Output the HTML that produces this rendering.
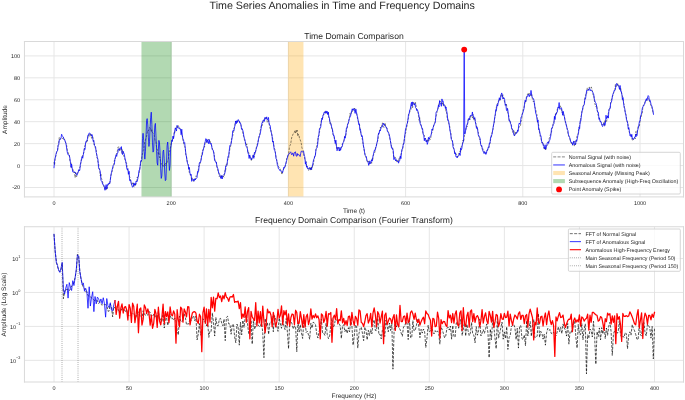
<!DOCTYPE html>
<html><head><meta charset="utf-8"><title>Time Series Anomalies</title>
<style>html,body{margin:0;padding:0;background:#fff;}body{width:685px;height:400px;overflow:hidden;}svg{display:block;}text{text-rendering:geometricPrecision;}</style>
</head><body>
<svg width="685" height="400" viewBox="0 0 685 400">
<defs>
<style type="text/css">*{stroke-linejoin: round; stroke-linecap: butt}</style>
</defs>
<g id="figure_1">
<g id="patch_1">
<path d="M 0 400 
L 685 400 
L 685 0 
L 0 0 
z
" style="fill: #ffffff"/>
</g>
<g id="axes_1">
<g id="patch_2">
<path d="M 24.45 196.9 
L 683.5 196.9 
L 683.5 41.5 
L 24.45 41.5 
z
" style="fill: #ffffff"/>
</g>
<g id="matplotlib.axis_1">
<g id="xtick_1">
<g id="line2d_1">
<path d="M 54 196.9 
L 54 41.5 
" clip-path="url(#pe3ca237a5c)" style="fill: none; stroke: #e6e6e6; stroke-linecap: square"/>
</g>
<g id="line2d_2"/>
<g id="text_1">
<text style="font-size: 5.5px; font-family: 'Liberation Sans', 'DejaVu Sans', sans-serif; text-anchor: middle; fill: #262626" x="54" y="204.79" transform="rotate(-0 54 204.79)">0</text>
</g>
</g>
<g id="xtick_2">
<g id="line2d_3">
<path d="M 171.2 196.9 
L 171.2 41.5 
" clip-path="url(#pe3ca237a5c)" style="fill: none; stroke: #e6e6e6; stroke-linecap: square"/>
</g>
<g id="line2d_4"/>
<g id="text_2">
<text style="font-size: 5.5px; font-family: 'Liberation Sans', 'DejaVu Sans', sans-serif; text-anchor: middle; fill: #262626" x="171.2" y="204.79" transform="rotate(-0 171.2 204.79)">200</text>
</g>
</g>
<g id="xtick_3">
<g id="line2d_5">
<path d="M 288.4 196.9 
L 288.4 41.5 
" clip-path="url(#pe3ca237a5c)" style="fill: none; stroke: #e6e6e6; stroke-linecap: square"/>
</g>
<g id="line2d_6"/>
<g id="text_3">
<text style="font-size: 5.5px; font-family: 'Liberation Sans', 'DejaVu Sans', sans-serif; text-anchor: middle; fill: #262626" x="288.4" y="204.79" transform="rotate(-0 288.4 204.79)">400</text>
</g>
</g>
<g id="xtick_4">
<g id="line2d_7">
<path d="M 405.6 196.9 
L 405.6 41.5 
" clip-path="url(#pe3ca237a5c)" style="fill: none; stroke: #e6e6e6; stroke-linecap: square"/>
</g>
<g id="line2d_8"/>
<g id="text_4">
<text style="font-size: 5.5px; font-family: 'Liberation Sans', 'DejaVu Sans', sans-serif; text-anchor: middle; fill: #262626" x="405.6" y="204.79" transform="rotate(-0 405.6 204.79)">600</text>
</g>
</g>
<g id="xtick_5">
<g id="line2d_9">
<path d="M 522.8 196.9 
L 522.8 41.5 
" clip-path="url(#pe3ca237a5c)" style="fill: none; stroke: #e6e6e6; stroke-linecap: square"/>
</g>
<g id="line2d_10"/>
<g id="text_5">
<text style="font-size: 5.5px; font-family: 'Liberation Sans', 'DejaVu Sans', sans-serif; text-anchor: middle; fill: #262626" x="522.8" y="204.79" transform="rotate(-0 522.8 204.79)">800</text>
</g>
</g>
<g id="xtick_6">
<g id="line2d_11">
<path d="M 640 196.9 
L 640 41.5 
" clip-path="url(#pe3ca237a5c)" style="fill: none; stroke: #e6e6e6; stroke-linecap: square"/>
</g>
<g id="line2d_12"/>
<g id="text_6">
<text style="font-size: 5.5px; font-family: 'Liberation Sans', 'DejaVu Sans', sans-serif; text-anchor: middle; fill: #262626" x="640" y="204.79" transform="rotate(-0 640 204.79)">1000</text>
</g>
</g>
<g id="text_7">
<text style="font-size: 6.5px; font-family: 'Liberation Sans', 'DejaVu Sans', sans-serif; text-anchor: middle; fill: #262626" x="353.98" y="213.14" transform="rotate(-0 353.98 213.14)">Time (t)</text>
</g>
</g>
<g id="matplotlib.axis_2">
<g id="ytick_1">
<g id="line2d_13">
<path d="M 24.45 187.5 
L 683.5 187.5 
" clip-path="url(#pe3ca237a5c)" style="fill: none; stroke: #e6e6e6; stroke-linecap: square"/>
</g>
<g id="line2d_14"/>
<g id="text_8">
<text style="font-size: 5.5px; font-family: 'Liberation Sans', 'DejaVu Sans', sans-serif; text-anchor: end; fill: #262626" x="20.15" y="189.49" transform="rotate(-0 20.15 189.49)">-20</text>
</g>
</g>
<g id="ytick_2">
<g id="line2d_15">
<path d="M 24.45 165.57 
L 683.5 165.57 
" clip-path="url(#pe3ca237a5c)" style="fill: none; stroke: #e6e6e6; stroke-linecap: square"/>
</g>
<g id="line2d_16"/>
<g id="text_9">
<text style="font-size: 5.5px; font-family: 'Liberation Sans', 'DejaVu Sans', sans-serif; text-anchor: end; fill: #262626" x="20.15" y="167.56" transform="rotate(-0 20.15 167.56)">0</text>
</g>
</g>
<g id="ytick_3">
<g id="line2d_17">
<path d="M 24.45 143.63 
L 683.5 143.63 
" clip-path="url(#pe3ca237a5c)" style="fill: none; stroke: #e6e6e6; stroke-linecap: square"/>
</g>
<g id="line2d_18"/>
<g id="text_10">
<text style="font-size: 5.5px; font-family: 'Liberation Sans', 'DejaVu Sans', sans-serif; text-anchor: end; fill: #262626" x="20.15" y="145.63" transform="rotate(-0 20.15 145.63)">20</text>
</g>
</g>
<g id="ytick_4">
<g id="line2d_19">
<path d="M 24.45 121.7 
L 683.5 121.7 
" clip-path="url(#pe3ca237a5c)" style="fill: none; stroke: #e6e6e6; stroke-linecap: square"/>
</g>
<g id="line2d_20"/>
<g id="text_11">
<text style="font-size: 5.5px; font-family: 'Liberation Sans', 'DejaVu Sans', sans-serif; text-anchor: end; fill: #262626" x="20.15" y="123.69" transform="rotate(-0 20.15 123.69)">40</text>
</g>
</g>
<g id="ytick_5">
<g id="line2d_21">
<path d="M 24.45 99.77 
L 683.5 99.77 
" clip-path="url(#pe3ca237a5c)" style="fill: none; stroke: #e6e6e6; stroke-linecap: square"/>
</g>
<g id="line2d_22"/>
<g id="text_12">
<text style="font-size: 5.5px; font-family: 'Liberation Sans', 'DejaVu Sans', sans-serif; text-anchor: end; fill: #262626" x="20.15" y="101.76" transform="rotate(-0 20.15 101.76)">60</text>
</g>
</g>
<g id="ytick_6">
<g id="line2d_23">
<path d="M 24.45 77.83 
L 683.5 77.83 
" clip-path="url(#pe3ca237a5c)" style="fill: none; stroke: #e6e6e6; stroke-linecap: square"/>
</g>
<g id="line2d_24"/>
<g id="text_13">
<text style="font-size: 5.5px; font-family: 'Liberation Sans', 'DejaVu Sans', sans-serif; text-anchor: end; fill: #262626" x="20.15" y="79.83" transform="rotate(-0 20.15 79.83)">80</text>
</g>
</g>
<g id="ytick_7">
<g id="line2d_25">
<path d="M 24.45 55.9 
L 683.5 55.9 
" clip-path="url(#pe3ca237a5c)" style="fill: none; stroke: #e6e6e6; stroke-linecap: square"/>
</g>
<g id="line2d_26"/>
<g id="text_14">
<text style="font-size: 5.5px; font-family: 'Liberation Sans', 'DejaVu Sans', sans-serif; text-anchor: end; fill: #262626" x="20.15" y="57.89" transform="rotate(-0 20.15 57.89)">100</text>
</g>
</g>
</g>
<g id="patch_3">
<path d="M 141.9 196.9 
L 171.2 196.9 
L 171.2 41.5 
L 141.9 41.5 
z
" clip-path="url(#pe3ca237a5c)" style="fill: #008000; opacity: 0.3; stroke: #008000; stroke-width: 0.8; stroke-linejoin: miter"/>
</g>
<g id="patch_4">
<path d="M 288.4 196.9 
L 303.05 196.9 
L 303.05 41.5 
L 288.4 41.5 
z
" clip-path="url(#pe3ca237a5c)" style="fill: #ffa500; opacity: 0.3; stroke: #ffa500; stroke-width: 0.8; stroke-linejoin: miter"/>
</g>
<g id="line2d_27">
<path d="M 54 161.97 
L 54.59 165.12 
L 55.17 158.33 
L 55.76 156.49 
L 56.34 154.04 
L 56.93 150.7 
L 57.52 150.26 
L 58.1 145.43 
L 58.69 143.3 
L 59.27 137.45 
L 59.86 139.72 
L 60.45 138.67 
L 61.03 138.07 
L 61.62 137.87 
L 62.2 138.3 
L 62.79 138.49 
L 63.38 137.42 
L 63.96 139.4 
L 64.55 139.2 
L 65.13 141.81 
L 65.72 142.74 
L 66.31 143.36 
L 66.89 147.06 
L 67.48 150.77 
L 68.06 152.3 
L 68.65 154.14 
L 69.24 154.44 
L 69.82 160.21 
L 70.41 162.33 
L 70.99 162.59 
L 71.58 167.93 
L 72.17 168.24 
L 72.75 168.94 
L 73.34 171.08 
L 73.92 172.98 
L 74.51 172.11 
L 75.1 177.7 
L 75.68 172.86 
L 76.27 176.37 
L 76.85 176.45 
L 77.44 172.91 
L 78.03 171.25 
L 78.61 171.33 
L 79.2 170.56 
L 79.78 167.48 
L 80.37 166.35 
L 80.96 161.37 
L 81.54 159.96 
L 82.13 158.07 
L 82.71 154.36 
L 83.3 153.85 
L 83.89 152.2 
L 84.47 146.99 
L 85.06 145.27 
L 85.64 143.3 
L 86.23 142.49 
L 86.82 140.13 
L 87.4 141.24 
L 87.99 136.43 
L 88.57 134.75 
L 89.16 136.31 
L 89.75 134.26 
L 90.33 136.23 
L 90.92 134.07 
L 91.5 138.2 
L 92.09 138.53 
L 92.68 136.75 
L 93.26 138.54 
L 93.85 144.5 
L 94.43 144.23 
L 95.02 146.58 
L 95.61 149.43 
L 96.19 150.17 
L 96.78 157 
L 97.36 158.41 
L 97.95 162.15 
L 98.54 163.1 
L 99.12 168.11 
L 99.71 170.87 
L 100.29 175.78 
L 100.88 173.5 
L 101.47 178.2 
L 102.05 180.2 
L 102.64 182.02 
L 103.22 184.89 
L 103.81 186.63 
L 104.4 188.26 
L 104.98 188.49 
L 105.57 186.63 
L 106.15 190.15 
L 106.74 189.25 
L 107.33 187.91 
L 107.91 185.5 
L 108.5 184.19 
L 109.08 184.51 
L 109.67 183.61 
L 110.26 179.63 
L 110.84 175.97 
L 111.43 173.3 
L 112.01 172.07 
L 112.6 169.16 
L 113.19 166.88 
L 113.77 165.45 
L 114.36 160.34 
L 114.94 160.55 
L 115.53 157.25 
L 116.12 155.51 
L 116.7 153.06 
L 117.29 151.64 
L 117.87 147.24 
L 118.46 147.09 
L 119.05 146.7 
L 119.63 151.37 
L 120.22 149.22 
L 120.8 149.66 
L 121.39 148.24 
L 121.98 153.49 
L 122.56 149.76 
L 123.15 152.05 
L 123.73 155.85 
L 124.32 157.19 
L 124.91 159.65 
L 125.49 160.77 
L 126.08 163.08 
L 126.66 163.25 
L 127.25 168.87 
L 127.84 169.81 
L 128.42 171.82 
L 129.01 172.63 
L 129.59 176.69 
L 130.18 177.82 
L 130.77 182.98 
L 131.35 183.44 
L 131.94 184.97 
L 132.52 182.8 
L 133.11 183.85 
L 133.7 186.35 
L 134.28 187.1 
L 134.87 183.74 
L 135.45 185.27 
L 136.04 183.96 
L 136.63 181.65 
L 137.21 177.09 
L 137.8 178.21 
L 138.38 176.06 
L 138.97 174.07 
L 139.56 171.11 
L 140.14 166.31 
L 140.73 163.17 
L 141.31 160.8 
L 141.9 156.82 
L 142.49 153.88 
L 143.07 150.68 
L 143.66 149.68 
L 144.24 145.23 
L 144.83 141.69 
L 145.42 140.3 
L 146 137.78 
L 146.59 136.07 
L 147.17 133 
L 147.76 130.29 
L 148.35 130.93 
L 148.93 129.85 
L 149.52 127.56 
L 150.1 128.39 
L 150.69 127.56 
L 151.28 131.98 
L 151.86 129.87 
L 152.45 132.39 
L 153.03 133.08 
L 153.62 134.23 
L 154.21 135.1 
L 154.79 138.81 
L 155.38 141.61 
L 155.96 141.67 
L 156.55 146.86 
L 157.14 149.13 
L 157.72 150.43 
L 158.31 154.15 
L 158.89 152.53 
L 159.48 157.46 
L 160.07 157.39 
L 160.65 161.99 
L 161.24 164 
L 161.82 164.47 
L 162.41 163.92 
L 163 166.27 
L 163.58 165.92 
L 164.17 165.79 
L 164.75 164.4 
L 165.34 165.73 
L 165.93 162.98 
L 166.51 164.06 
L 167.1 162.35 
L 167.68 159.65 
L 168.27 158.85 
L 168.86 154.92 
L 169.44 151.52 
L 170.03 150.19 
L 170.61 146.44 
L 171.2 143.77 
L 171.79 142.03 
L 172.37 139.27 
L 172.96 138.48 
L 173.54 137.17 
L 174.13 132.42 
L 174.72 133.29 
L 175.3 128.86 
L 175.89 128.83 
L 176.47 126.37 
L 177.06 126.55 
L 177.65 128.01 
L 178.23 125.59 
L 178.82 126.73 
L 179.4 127.49 
L 179.99 128.68 
L 180.58 131.02 
L 181.16 131.49 
L 181.75 134.29 
L 182.33 136.04 
L 182.92 140.47 
L 183.51 142 
L 184.09 145.26 
L 184.68 146.23 
L 185.26 148.31 
L 185.85 155.24 
L 186.44 156.08 
L 187.02 159.64 
L 187.61 163.95 
L 188.19 165.03 
L 188.78 168.65 
L 189.37 172.94 
L 189.95 173.44 
L 190.54 175.09 
L 191.12 175.93 
L 191.71 180.39 
L 192.3 177.96 
L 192.88 178.48 
L 193.47 181.16 
L 194.05 181.39 
L 194.64 180.42 
L 195.23 179.48 
L 195.81 175.93 
L 196.4 176.14 
L 196.98 176.25 
L 197.57 173.72 
L 198.16 171.47 
L 198.74 166.12 
L 199.33 165.99 
L 199.91 164.17 
L 200.5 161.08 
L 201.09 159.23 
L 201.67 153.07 
L 202.26 153.59 
L 202.84 150.11 
L 203.43 148.97 
L 204.02 146.63 
L 204.6 146.86 
L 205.19 142.24 
L 205.77 141.71 
L 206.36 141.2 
L 206.95 142.3 
L 207.53 140.59 
L 208.12 139.75 
L 208.7 139.32 
L 209.29 139.97 
L 209.88 140.22 
L 210.46 142.55 
L 211.05 144.42 
L 211.63 145.51 
L 212.22 147.87 
L 212.81 150.12 
L 213.39 151.71 
L 213.98 152.85 
L 214.56 157.21 
L 215.15 161.1 
L 215.74 161.53 
L 216.32 162.52 
L 216.91 166.95 
L 217.49 169.32 
L 218.08 171.37 
L 218.67 171.87 
L 219.25 176.57 
L 219.84 175.52 
L 220.42 174.94 
L 221.01 178.16 
L 221.6 175.58 
L 222.18 176.9 
L 222.77 177.31 
L 223.35 176.15 
L 223.94 177.29 
L 224.53 173.97 
L 225.11 169.54 
L 225.7 170.26 
L 226.28 164.4 
L 226.87 165.33 
L 227.46 160.43 
L 228.04 158.67 
L 228.63 158.39 
L 229.21 152.8 
L 229.8 149.43 
L 230.39 147.4 
L 230.97 144.46 
L 231.56 138.89 
L 232.14 136.9 
L 232.73 135.72 
L 233.32 131.84 
L 233.9 128.41 
L 234.49 127.29 
L 235.07 123.52 
L 235.66 121.04 
L 236.25 121.97 
L 236.83 122.17 
L 237.42 122.53 
L 238 121.13 
L 238.59 120.07 
L 239.18 121.28 
L 239.76 121.81 
L 240.35 123.89 
L 240.93 125.37 
L 241.52 127.37 
L 242.11 129.24 
L 242.69 132.77 
L 243.28 135 
L 243.86 136.85 
L 244.45 139.87 
L 245.04 141.94 
L 245.62 142.67 
L 246.21 145.4 
L 246.79 143.85 
L 247.38 148.72 
L 247.97 152.85 
L 248.55 152.09 
L 249.14 154.83 
L 249.72 156.45 
L 250.31 156.84 
L 250.9 159.27 
L 251.48 160.98 
L 252.07 157.61 
L 252.65 157.67 
L 253.24 154.54 
L 253.83 156.98 
L 254.41 156.53 
L 255 151.53 
L 255.58 152.02 
L 256.17 148.6 
L 256.76 144.81 
L 257.34 144.51 
L 257.93 142.28 
L 258.51 139.67 
L 259.1 135.67 
L 259.69 135.28 
L 260.27 130.32 
L 260.86 128.63 
L 261.44 124.73 
L 262.03 125.82 
L 262.62 124.14 
L 263.2 120.39 
L 263.79 120.67 
L 264.37 118.87 
L 264.96 118.41 
L 265.55 117.08 
L 266.13 118.44 
L 266.72 118.91 
L 267.3 122.22 
L 267.89 121.13 
L 268.48 120.25 
L 269.06 124.05 
L 269.65 126.64 
L 270.23 129.05 
L 270.82 129.05 
L 271.41 132.76 
L 271.99 136.42 
L 272.58 137.99 
L 273.16 142.18 
L 273.75 144.55 
L 274.34 148.32 
L 274.92 149.44 
L 275.51 153.41 
L 276.09 157.22 
L 276.68 160.55 
L 277.27 162.07 
L 277.85 164.61 
L 278.44 166.43 
L 279.02 167.34 
L 279.61 169.31 
L 280.2 168.96 
L 280.78 170.42 
L 281.37 171.56 
L 281.95 174.57 
L 282.54 170.64 
L 283.13 170.02 
L 283.71 169.19 
L 284.3 168.29 
L 284.88 167.86 
L 285.47 165.37 
L 286.06 163.72 
L 286.64 158.37 
L 287.23 158.28 
L 287.81 156.27 
L 288.4 154.81 
L 288.99 151.05 
L 289.57 145.97 
L 290.16 145.28 
L 290.74 143.66 
L 291.33 139.47 
L 291.92 136.56 
L 292.5 135.65 
L 293.09 133.91 
L 293.67 133.49 
L 294.26 132.6 
L 294.85 130.87 
L 295.43 133.06 
L 296.02 130 
L 296.6 132.26 
L 297.19 130.14 
L 297.78 136.3 
L 298.36 134.29 
L 298.95 134.61 
L 299.53 138.83 
L 300.12 139.6 
L 300.71 141.3 
L 301.29 143.52 
L 301.88 147.56 
L 302.46 149.36 
L 303.05 150.36 
L 303.64 152.84 
L 304.22 156.53 
L 304.81 158.92 
L 305.39 160.93 
L 305.98 161.11 
L 306.57 165.59 
L 307.15 168.13 
L 307.74 167.98 
L 308.32 170.36 
L 308.91 170.22 
L 309.5 168.6 
L 310.08 167.61 
L 310.67 170.5 
L 311.25 166.56 
L 311.84 169.4 
L 312.43 164.99 
L 313.01 165.45 
L 313.6 162.96 
L 314.18 158.12 
L 314.77 156.87 
L 315.36 154.88 
L 315.94 150.51 
L 316.53 146.42 
L 317.11 144.76 
L 317.7 140.54 
L 318.29 136.38 
L 318.87 135.8 
L 319.46 132.18 
L 320.04 128.87 
L 320.63 123.66 
L 321.22 120.94 
L 321.8 118.72 
L 322.39 118.42 
L 322.97 116.84 
L 323.56 114.5 
L 324.15 114.43 
L 324.73 111.68 
L 325.32 111.72 
L 325.9 113.24 
L 326.49 112.59 
L 327.08 113.59 
L 327.66 111.98 
L 328.25 112.19 
L 328.83 117.7 
L 329.42 118.52 
L 330.01 123.64 
L 330.59 122.08 
L 331.18 125.45 
L 331.76 129.14 
L 332.35 128.91 
L 332.94 134.72 
L 333.52 135.15 
L 334.11 137.16 
L 334.69 140.8 
L 335.28 140.96 
L 335.87 142.2 
L 336.45 147.2 
L 337.04 148.84 
L 337.62 147.01 
L 338.21 149.34 
L 338.8 150.47 
L 339.38 150.64 
L 339.97 149.87 
L 340.55 149.29 
L 341.14 147.52 
L 341.73 147.1 
L 342.31 144 
L 342.9 143.55 
L 343.48 141.98 
L 344.07 139.57 
L 344.66 136.46 
L 345.24 134.96 
L 345.83 135.4 
L 346.41 130.37 
L 347 128.14 
L 347.59 125.37 
L 348.17 123.01 
L 348.76 120.29 
L 349.34 118.69 
L 349.93 113.5 
L 350.52 115.2 
L 351.1 113.76 
L 351.69 111.55 
L 352.27 112.13 
L 352.86 110.09 
L 353.45 109.48 
L 354.03 110 
L 354.62 108.05 
L 355.2 110.61 
L 355.79 112.25 
L 356.38 112.89 
L 356.96 114.71 
L 357.55 118.94 
L 358.13 120.54 
L 358.72 122.41 
L 359.31 123.16 
L 359.89 127.6 
L 360.48 130.58 
L 361.06 135.14 
L 361.65 135.7 
L 362.24 138.93 
L 362.82 142.59 
L 363.41 145.29 
L 363.99 149.04 
L 364.58 152.16 
L 365.17 154.77 
L 365.75 157.02 
L 366.34 158.09 
L 366.92 160.29 
L 367.51 162.64 
L 368.1 161.22 
L 368.68 161.53 
L 369.27 164.12 
L 369.85 162.71 
L 370.44 162.51 
L 371.03 162.11 
L 371.61 163.37 
L 372.2 158.08 
L 372.78 159.32 
L 373.37 155.12 
L 373.96 153.8 
L 374.54 153.34 
L 375.13 150.31 
L 375.71 146.5 
L 376.3 145.75 
L 376.89 142.35 
L 377.47 141.21 
L 378.06 139.55 
L 378.64 133.06 
L 379.23 131.61 
L 379.82 130.46 
L 380.4 127.24 
L 380.99 128.38 
L 381.57 126.55 
L 382.16 122.95 
L 382.75 123.18 
L 383.33 126.39 
L 383.92 127.44 
L 384.5 125.54 
L 385.09 122.84 
L 385.68 126.55 
L 386.26 127.31 
L 386.85 128.15 
L 387.43 130.55 
L 388.02 131.39 
L 388.61 132.43 
L 389.19 136.01 
L 389.78 138.55 
L 390.36 140.84 
L 390.95 143.41 
L 391.54 146.47 
L 392.12 146.65 
L 392.71 147.8 
L 393.29 153.74 
L 393.88 157.68 
L 394.47 157 
L 395.05 156.98 
L 395.64 157.93 
L 396.22 159.05 
L 396.81 161.86 
L 397.4 161.89 
L 397.98 160.27 
L 398.57 161.87 
L 399.15 157.56 
L 399.74 158.42 
L 400.33 156.15 
L 400.91 154.47 
L 401.5 152.59 
L 402.08 149.5 
L 402.67 149.38 
L 403.26 144.64 
L 403.84 142.25 
L 404.43 138.91 
L 405.01 134.33 
L 405.6 133.23 
L 406.19 130.13 
L 406.77 126.89 
L 407.36 123.48 
L 407.94 119.48 
L 408.53 118.01 
L 409.12 112.86 
L 409.7 112.35 
L 410.29 110.16 
L 410.87 110.04 
L 411.46 106.48 
L 412.05 104.68 
L 412.63 107.65 
L 413.22 102.14 
L 413.8 101.88 
L 414.39 104.53 
L 414.98 104.73 
L 415.56 102.49 
L 416.15 106.04 
L 416.73 109.89 
L 417.32 110.6 
L 417.91 112.36 
L 418.49 114.93 
L 419.08 120.38 
L 419.66 117.61 
L 420.25 122.61 
L 420.84 124.62 
L 421.42 127.22 
L 422.01 128.09 
L 422.59 131.59 
L 423.18 133.87 
L 423.77 134.7 
L 424.35 135.21 
L 424.94 139.2 
L 425.52 138.48 
L 426.11 140.16 
L 426.7 141.91 
L 427.28 139.81 
L 427.87 142.1 
L 428.45 140.45 
L 429.04 140.86 
L 429.63 138.37 
L 430.21 139.56 
L 430.8 137.66 
L 431.38 133.64 
L 431.97 132.56 
L 432.56 131.14 
L 433.14 128.07 
L 433.73 124.98 
L 434.31 123.63 
L 434.9 122.42 
L 435.49 118.55 
L 436.07 116.47 
L 436.66 114.19 
L 437.24 110.33 
L 437.83 108.87 
L 438.42 106.91 
L 439 103.02 
L 439.59 102.6 
L 440.17 101.16 
L 440.76 101.96 
L 441.35 102.18 
L 441.93 103.92 
L 442.52 102.06 
L 443.1 106.04 
L 443.69 104.35 
L 444.28 104.49 
L 444.86 104.69 
L 445.45 106.93 
L 446.03 112.66 
L 446.62 112.44 
L 447.21 118.21 
L 447.79 118.28 
L 448.38 122.08 
L 448.96 124.23 
L 449.55 125.18 
L 450.14 130.42 
L 450.72 131.81 
L 451.31 137.91 
L 451.89 141.13 
L 452.48 141.47 
L 453.07 143.85 
L 453.65 148.31 
L 454.24 150.53 
L 454.82 153.78 
L 455.41 153.91 
L 456 153.46 
L 456.58 155.3 
L 457.17 155.62 
L 457.75 156.93 
L 458.34 154.72 
L 458.93 153.09 
L 459.51 153.3 
L 460.1 150.93 
L 460.68 152.49 
L 461.27 146.42 
L 461.86 146.1 
L 462.44 144.88 
L 463.03 140.03 
L 463.61 141.88 
L 464.2 137.36 
L 464.79 133.92 
L 465.37 131.14 
L 465.96 127.61 
L 466.54 125.89 
L 467.13 126.79 
L 467.72 123.51 
L 468.3 119.79 
L 468.89 119.04 
L 469.47 117.9 
L 470.06 119.53 
L 470.65 115.83 
L 471.23 115.35 
L 471.82 115.79 
L 472.4 117.74 
L 472.99 114.35 
L 473.58 120.2 
L 474.16 118.93 
L 474.75 117.6 
L 475.33 122.15 
L 475.92 123.46 
L 476.51 126.98 
L 477.09 126.5 
L 477.68 131.9 
L 478.26 132.12 
L 478.85 135.75 
L 479.44 139.17 
L 480.02 138.85 
L 480.61 143.67 
L 481.19 145.64 
L 481.78 147.04 
L 482.37 149.21 
L 482.95 149.4 
L 483.54 149.14 
L 484.12 152.35 
L 484.71 153.05 
L 485.3 154.01 
L 485.88 153.19 
L 486.47 151.61 
L 487.05 151.28 
L 487.64 149.57 
L 488.23 148.68 
L 488.81 148.55 
L 489.4 144.1 
L 489.98 143.67 
L 490.57 139.74 
L 491.16 135.6 
L 491.74 134.96 
L 492.33 130.87 
L 492.91 129.66 
L 493.5 125.52 
L 494.09 123.13 
L 494.67 118.27 
L 495.26 115.65 
L 495.84 112.05 
L 496.43 106.6 
L 497.02 106.2 
L 497.6 102.64 
L 498.19 101.89 
L 498.77 100.44 
L 499.36 99.4 
L 499.95 100.48 
L 500.53 96.59 
L 501.12 94.09 
L 501.7 95.08 
L 502.29 97.18 
L 502.88 94.73 
L 503.46 97.83 
L 504.05 99.63 
L 504.63 102.44 
L 505.22 103.82 
L 505.81 105.34 
L 506.39 103.72 
L 506.98 108.46 
L 507.56 112.48 
L 508.15 114.03 
L 508.74 115.68 
L 509.32 121.53 
L 509.91 121.11 
L 510.49 122.28 
L 511.08 124.5 
L 511.67 126.65 
L 512.25 130.37 
L 512.84 132.4 
L 513.42 129.88 
L 514.01 131.12 
L 514.6 135.64 
L 515.18 132.03 
L 515.77 133.92 
L 516.35 132.03 
L 516.94 132.37 
L 517.53 131.57 
L 518.11 129.52 
L 518.7 128.09 
L 519.28 126.49 
L 519.87 126.74 
L 520.46 126.07 
L 521.04 121.41 
L 521.63 119.47 
L 522.21 114.24 
L 522.8 111.44 
L 523.39 108.68 
L 523.97 107.81 
L 524.56 104.78 
L 525.14 101.07 
L 525.73 101.79 
L 526.32 97.38 
L 526.9 94.94 
L 527.49 94.83 
L 528.07 93.36 
L 528.66 94.82 
L 529.25 93 
L 529.83 94.17 
L 530.42 94.87 
L 531 95.96 
L 531.59 94.07 
L 532.18 98.59 
L 532.76 98.87 
L 533.35 102.01 
L 533.93 101.43 
L 534.52 103.13 
L 535.11 108.24 
L 535.69 108.92 
L 536.28 112.88 
L 536.86 114.4 
L 537.45 120.23 
L 538.04 124.83 
L 538.62 124.67 
L 539.21 130.59 
L 539.79 133.97 
L 540.38 136.89 
L 540.97 138.33 
L 541.55 140.95 
L 542.14 142.88 
L 542.72 141.91 
L 543.31 144.19 
L 543.9 148.22 
L 544.48 149.22 
L 545.07 147.66 
L 545.65 150.34 
L 546.24 147.24 
L 546.83 145.69 
L 547.41 145.31 
L 548 144.28 
L 548.58 141.96 
L 549.17 138.6 
L 549.76 137.1 
L 550.34 135.05 
L 550.93 132.33 
L 551.51 132.21 
L 552.1 127.59 
L 552.69 127.26 
L 553.27 122.5 
L 553.86 122.57 
L 554.44 119.14 
L 555.03 116.59 
L 555.62 113.53 
L 556.2 114.51 
L 556.79 111.25 
L 557.37 109.07 
L 557.96 108.39 
L 558.55 108.48 
L 559.13 107.31 
L 559.72 108.14 
L 560.3 105.81 
L 560.89 107.47 
L 561.48 110.11 
L 562.06 112.99 
L 562.65 111.93 
L 563.23 112.41 
L 563.82 115.33 
L 564.41 116.47 
L 564.99 119.83 
L 565.58 123.59 
L 566.16 124.23 
L 566.75 126.2 
L 567.34 129.41 
L 567.92 133.47 
L 568.51 134.33 
L 569.09 136.97 
L 569.68 137.79 
L 570.27 140.62 
L 570.85 141.88 
L 571.44 143.48 
L 572.02 142.44 
L 572.61 144.46 
L 573.2 145.36 
L 573.78 145.77 
L 574.37 146.05 
L 574.95 141.22 
L 575.54 144.46 
L 576.13 141.66 
L 576.71 137.46 
L 577.3 134.8 
L 577.88 134.51 
L 578.47 131.05 
L 579.06 128.5 
L 579.64 124.49 
L 580.23 122.5 
L 580.81 117.08 
L 581.4 115.34 
L 581.99 111.05 
L 582.57 111.08 
L 583.16 105.71 
L 583.74 105.53 
L 584.33 102.63 
L 584.92 97.43 
L 585.5 96.62 
L 586.09 92.96 
L 586.67 93.5 
L 587.26 87.78 
L 587.85 89.04 
L 588.43 90.18 
L 589.02 87.38 
L 589.6 87.3 
L 590.19 88.4 
L 590.78 88.15 
L 591.36 86.92 
L 591.95 89.36 
L 592.53 92.39 
L 593.12 95.14 
L 593.71 94.78 
L 594.29 99.84 
L 594.88 104.54 
L 595.46 104.28 
L 596.05 106.7 
L 596.64 105.18 
L 597.22 109.65 
L 597.81 114.2 
L 598.39 116.01 
L 598.98 117.02 
L 599.57 119.83 
L 600.15 121.44 
L 600.74 121.84 
L 601.32 122.48 
L 601.91 124.41 
L 602.5 125.01 
L 603.08 123.92 
L 603.67 122.68 
L 604.25 126.21 
L 604.84 120.37 
L 605.43 122.08 
L 606.01 120.22 
L 606.6 121.48 
L 607.18 118.02 
L 607.77 115.72 
L 608.36 113.15 
L 608.94 110.69 
L 609.53 108.27 
L 610.11 108.34 
L 610.7 103.05 
L 611.29 100.3 
L 611.87 98.3 
L 612.46 96.34 
L 613.04 95.04 
L 613.63 92.63 
L 614.22 91.84 
L 614.8 89.93 
L 615.39 84.67 
L 615.97 86.88 
L 616.56 85.33 
L 617.15 86.05 
L 617.73 83.55 
L 618.32 83.7 
L 618.9 86.44 
L 619.49 86.46 
L 620.08 89.41 
L 620.66 87.94 
L 621.25 91.45 
L 621.83 95.02 
L 622.42 95.59 
L 623.01 99.29 
L 623.59 103.07 
L 624.18 104.62 
L 624.76 110.1 
L 625.35 112.48 
L 625.94 114.27 
L 626.52 118.44 
L 627.11 122.06 
L 627.69 122.26 
L 628.28 126.62 
L 628.87 130.16 
L 629.45 132.61 
L 630.04 133.46 
L 630.62 134.25 
L 631.21 135.6 
L 631.8 136.53 
L 632.38 140.82 
L 632.97 139.87 
L 633.55 138.95 
L 634.14 138.62 
L 634.73 137.49 
L 635.31 138.79 
L 635.9 131.49 
L 636.48 134.89 
L 637.07 132.26 
L 637.66 128.51 
L 638.24 125.98 
L 638.83 125.73 
L 639.41 125.95 
L 640 121.31 
L 640.59 116.32 
L 641.17 117.02 
L 641.76 114.13 
L 642.34 113.14 
L 642.93 106.15 
L 643.52 105.09 
L 644.1 105.26 
L 644.69 102.65 
L 645.27 101.3 
L 645.86 101.74 
L 646.45 99.69 
L 647.03 99.15 
L 647.62 97.64 
L 648.2 98.44 
L 648.79 99.83 
L 649.38 101.37 
L 649.96 101.38 
L 650.55 104.4 
L 651.13 106.05 
L 651.72 105.92 
L 652.31 109.48 
L 652.89 112.3 
L 653.48 114.03 
" clip-path="url(#pe3ca237a5c)" style="fill: none; stroke-dasharray: 2.4,1.28; stroke-dashoffset: 0; stroke: #000000; stroke-opacity: 0.6; stroke-width: 0.8"/>
</g>
<g id="line2d_28">
<path d="M 54 167.7 
L 54.59 160.64 
L 55.17 158.01 
L 55.76 155.28 
L 56.34 152.79 
L 56.93 151.23 
L 57.52 150.83 
L 58.1 145.67 
L 58.69 144.76 
L 59.27 140.04 
L 59.86 139.51 
L 60.45 139.27 
L 61.03 138 
L 61.62 134.22 
L 62.2 135.55 
L 62.79 136.67 
L 63.38 137.05 
L 63.96 139.59 
L 64.55 139.86 
L 65.13 140.84 
L 65.72 142.83 
L 66.31 145.69 
L 66.89 149.99 
L 67.48 153.1 
L 68.06 154.83 
L 68.65 154.93 
L 69.24 155.12 
L 69.82 157.81 
L 70.41 162.31 
L 70.99 167.39 
L 71.58 164.04 
L 72.17 167.95 
L 72.75 171.88 
L 73.34 171.55 
L 73.92 172.36 
L 74.51 171.8 
L 75.1 172.84 
L 75.68 172.46 
L 76.27 174.21 
L 76.85 175.32 
L 77.44 173.81 
L 78.03 173.07 
L 78.61 169.72 
L 79.2 170.7 
L 79.78 170.4 
L 80.37 164.36 
L 80.96 162.21 
L 81.54 158.3 
L 82.13 156.53 
L 82.71 158.32 
L 83.3 154.88 
L 83.89 151.32 
L 84.47 148.43 
L 85.06 149.38 
L 85.64 142.31 
L 86.23 141.04 
L 86.82 141.43 
L 87.4 138.92 
L 87.99 134.92 
L 88.57 135.28 
L 89.16 132.91 
L 89.75 133.15 
L 90.33 133.75 
L 90.92 134.3 
L 91.5 136.08 
L 92.09 134.62 
L 92.68 138.32 
L 93.26 141.37 
L 93.85 140.58 
L 94.43 145.41 
L 95.02 146.06 
L 95.61 147.02 
L 96.19 152.45 
L 96.78 154.45 
L 97.36 157.72 
L 97.95 159.25 
L 98.54 167.68 
L 99.12 169.04 
L 99.71 169.43 
L 100.29 172.03 
L 100.88 180.18 
L 101.47 180.96 
L 102.05 181.96 
L 102.64 184.26 
L 103.22 184.43 
L 103.81 185.07 
L 104.4 186.64 
L 104.98 190.27 
L 105.57 187.22 
L 106.15 184.59 
L 106.74 189.07 
L 107.33 185.98 
L 107.91 183.88 
L 108.5 184.08 
L 109.08 182.94 
L 109.67 183.85 
L 110.26 180.72 
L 110.84 175.84 
L 111.43 172.61 
L 112.01 170.22 
L 112.6 167.85 
L 113.19 165.44 
L 113.77 164.81 
L 114.36 164.12 
L 114.94 158.9 
L 115.53 157.14 
L 116.12 154.83 
L 116.7 156.42 
L 117.29 152.96 
L 117.87 152.85 
L 118.46 148.78 
L 119.05 149.69 
L 119.63 149.93 
L 120.22 147.73 
L 120.8 148.41 
L 121.39 146.61 
L 121.98 152.29 
L 122.56 154.55 
L 123.15 151.34 
L 123.73 152.86 
L 124.32 154.15 
L 124.91 157.96 
L 125.49 160.06 
L 126.08 163.06 
L 126.66 167.81 
L 127.25 169.7 
L 127.84 168.54 
L 128.42 174.35 
L 129.01 171.12 
L 129.59 180.63 
L 130.18 180.33 
L 130.77 180.1 
L 131.35 183.57 
L 131.94 185.69 
L 132.52 187.16 
L 133.11 186.71 
L 133.7 182.85 
L 134.28 185.22 
L 134.87 183.61 
L 135.45 185.28 
L 136.04 181.12 
L 136.63 181.87 
L 137.21 181.57 
L 137.8 178.45 
L 138.38 175.69 
L 138.97 170.29 
L 139.56 170.45 
L 140.14 166.15 
L 140.73 160.78 
L 141.31 161.15 
L 141.9 159.44 
L 142.49 138.58 
L 143.07 133.29 
L 143.66 140.62 
L 144.24 151.66 
L 144.83 159.13 
L 145.42 151.85 
L 146 137.22 
L 146.59 120.75 
L 147.17 118.64 
L 147.76 124.93 
L 148.35 137.16 
L 148.93 146.47 
L 149.52 141.72 
L 150.1 128.05 
L 150.69 117.22 
L 151.28 112.2 
L 151.86 124.32 
L 152.45 142.15 
L 153.03 152.14 
L 153.62 150.95 
L 154.21 136.75 
L 154.79 126.01 
L 155.38 123.41 
L 155.96 135.66 
L 156.55 150.47 
L 157.14 162.91 
L 157.72 165.24 
L 158.31 150.83 
L 158.89 140.37 
L 159.48 142.97 
L 160.07 152.67 
L 160.65 168.14 
L 161.24 178.42 
L 161.82 175.86 
L 162.41 164.26 
L 163 151.61 
L 163.58 150 
L 164.17 158.31 
L 164.75 173.06 
L 165.34 180.65 
L 165.93 179.79 
L 166.51 163.52 
L 167.1 145.76 
L 167.68 142.02 
L 168.27 149.37 
L 168.86 161.02 
L 169.44 170.44 
L 170.03 165.19 
L 170.61 148.61 
L 171.2 144.83 
L 171.79 140.25 
L 172.37 141.42 
L 172.96 136.14 
L 173.54 138.79 
L 174.13 134.6 
L 174.72 131.1 
L 175.3 127.88 
L 175.89 129.31 
L 176.47 131.05 
L 177.06 125.38 
L 177.65 126.79 
L 178.23 127.34 
L 178.82 128.41 
L 179.4 127.69 
L 179.99 129.04 
L 180.58 129.37 
L 181.16 134.82 
L 181.75 129.16 
L 182.33 135.5 
L 182.92 138.92 
L 183.51 139.74 
L 184.09 143.37 
L 184.68 142.62 
L 185.26 148.02 
L 185.85 153.66 
L 186.44 156.96 
L 187.02 160.89 
L 187.61 163.62 
L 188.19 164.35 
L 188.78 169.34 
L 189.37 167.38 
L 189.95 172.88 
L 190.54 175.21 
L 191.12 174.24 
L 191.71 181.37 
L 192.3 179.92 
L 192.88 179.26 
L 193.47 179.38 
L 194.05 181.15 
L 194.64 178.79 
L 195.23 179.91 
L 195.81 178.85 
L 196.4 178.5 
L 196.98 177.72 
L 197.57 171.41 
L 198.16 172.2 
L 198.74 170.15 
L 199.33 163.05 
L 199.91 162.11 
L 200.5 162.32 
L 201.09 160.01 
L 201.67 155.96 
L 202.26 155.39 
L 202.84 151.26 
L 203.43 149.1 
L 204.02 146.99 
L 204.6 143.51 
L 205.19 141.83 
L 205.77 138.6 
L 206.36 139.04 
L 206.95 142.7 
L 207.53 139.69 
L 208.12 141.49 
L 208.7 143.74 
L 209.29 139.55 
L 209.88 143.71 
L 210.46 143.84 
L 211.05 143.03 
L 211.63 146.07 
L 212.22 149.58 
L 212.81 150.04 
L 213.39 150.42 
L 213.98 154.41 
L 214.56 159.93 
L 215.15 161.02 
L 215.74 162.27 
L 216.32 162.02 
L 216.91 166.15 
L 217.49 167.97 
L 218.08 169.15 
L 218.67 173.24 
L 219.25 173.47 
L 219.84 174.77 
L 220.42 177.24 
L 221.01 178.48 
L 221.6 175.76 
L 222.18 179.01 
L 222.77 175.57 
L 223.35 175.13 
L 223.94 174.43 
L 224.53 174.02 
L 225.11 171.98 
L 225.7 166.01 
L 226.28 166.27 
L 226.87 165.38 
L 227.46 161.22 
L 228.04 156.16 
L 228.63 156.18 
L 229.21 150.94 
L 229.8 145.47 
L 230.39 145.35 
L 230.97 144.15 
L 231.56 140.86 
L 232.14 137.65 
L 232.73 130.77 
L 233.32 130.46 
L 233.9 131.08 
L 234.49 127.23 
L 235.07 125.37 
L 235.66 120.96 
L 236.25 123.73 
L 236.83 120.66 
L 237.42 122.34 
L 238 119.59 
L 238.59 120.12 
L 239.18 120.7 
L 239.76 123.14 
L 240.35 122.98 
L 240.93 124.31 
L 241.52 129.2 
L 242.11 128.71 
L 242.69 130.07 
L 243.28 131.94 
L 243.86 136.44 
L 244.45 138.45 
L 245.04 140.09 
L 245.62 144.52 
L 246.21 146.4 
L 246.79 147.23 
L 247.38 148.7 
L 247.97 152.96 
L 248.55 154.37 
L 249.14 158.53 
L 249.72 154.9 
L 250.31 158.06 
L 250.9 157.74 
L 251.48 159.89 
L 252.07 158.13 
L 252.65 157.48 
L 253.24 155.14 
L 253.83 158.38 
L 254.41 152.39 
L 255 153.23 
L 255.58 151.2 
L 256.17 149.12 
L 256.76 147.12 
L 257.34 146.02 
L 257.93 142.87 
L 258.51 138.93 
L 259.1 137.33 
L 259.69 135.16 
L 260.27 133.51 
L 260.86 130.1 
L 261.44 125.83 
L 262.03 122.5 
L 262.62 122.65 
L 263.2 120.2 
L 263.79 120.22 
L 264.37 121.41 
L 264.96 117.39 
L 265.55 119 
L 266.13 118.87 
L 266.72 116.84 
L 267.3 119.86 
L 267.89 119.78 
L 268.48 117.45 
L 269.06 122.88 
L 269.65 124.91 
L 270.23 125.7 
L 270.82 131.15 
L 271.41 132.77 
L 271.99 135.17 
L 272.58 141.97 
L 273.16 140.97 
L 273.75 146.32 
L 274.34 150.12 
L 274.92 150.8 
L 275.51 153.67 
L 276.09 158.97 
L 276.68 159.6 
L 277.27 164.53 
L 277.85 165.98 
L 278.44 168.8 
L 279.02 169.3 
L 279.61 169.72 
L 280.2 171.04 
L 280.78 170.81 
L 281.37 170.91 
L 281.95 171.65 
L 282.54 172.75 
L 283.13 170.68 
L 283.71 167.43 
L 284.3 168.1 
L 284.88 166.32 
L 285.47 164.91 
L 286.06 162.5 
L 286.64 160.63 
L 287.23 158.38 
L 287.81 155.73 
L 288.4 154.32 
L 288.99 154.28 
L 289.57 153.17 
L 290.16 152.6 
L 290.74 151.85 
L 291.33 154.11 
L 291.92 154.89 
L 292.5 153.02 
L 293.09 153.31 
L 293.67 156.2 
L 294.26 152.56 
L 294.85 152.78 
L 295.43 151.74 
L 296.02 155.43 
L 296.6 156.38 
L 297.19 153.41 
L 297.78 155.46 
L 298.36 154.49 
L 298.95 154.6 
L 299.53 155.12 
L 300.12 156.55 
L 300.71 153.33 
L 301.29 151.13 
L 301.88 151.17 
L 302.46 151.79 
L 303.05 152.33 
L 303.64 151.57 
L 304.22 156 
L 304.81 156.46 
L 305.39 164.18 
L 305.98 161.82 
L 306.57 167.21 
L 307.15 165.99 
L 307.74 167.79 
L 308.32 169.28 
L 308.91 168.41 
L 309.5 167.56 
L 310.08 169.02 
L 310.67 167.86 
L 311.25 169.84 
L 311.84 167.54 
L 312.43 166.33 
L 313.01 162.76 
L 313.6 159.54 
L 314.18 158.83 
L 314.77 155.86 
L 315.36 155.82 
L 315.94 149.44 
L 316.53 148.37 
L 317.11 147.77 
L 317.7 144.14 
L 318.29 137.47 
L 318.87 134.9 
L 319.46 128.71 
L 320.04 128 
L 320.63 127.59 
L 321.22 123.44 
L 321.8 118.24 
L 322.39 119.55 
L 322.97 115.27 
L 323.56 114.29 
L 324.15 112.16 
L 324.73 112.46 
L 325.32 113.33 
L 325.9 110.88 
L 326.49 112.75 
L 327.08 111.11 
L 327.66 114.56 
L 328.25 112.17 
L 328.83 116.76 
L 329.42 118.02 
L 330.01 122.5 
L 330.59 123.33 
L 331.18 124.98 
L 331.76 127.41 
L 332.35 128.58 
L 332.94 132.9 
L 333.52 135.83 
L 334.11 135.5 
L 334.69 139.78 
L 335.28 143.63 
L 335.87 140.12 
L 336.45 145.45 
L 337.04 150.76 
L 337.62 149.26 
L 338.21 147.13 
L 338.8 148.48 
L 339.38 151 
L 339.97 147.28 
L 340.55 150.36 
L 341.14 148.26 
L 341.73 147.16 
L 342.31 146.24 
L 342.9 142.92 
L 343.48 142.22 
L 344.07 140.74 
L 344.66 136.5 
L 345.24 138.21 
L 345.83 134.01 
L 346.41 128.09 
L 347 128.3 
L 347.59 124.17 
L 348.17 123.7 
L 348.76 121.45 
L 349.34 118.64 
L 349.93 117.15 
L 350.52 116.28 
L 351.1 113.18 
L 351.69 110.53 
L 352.27 108.77 
L 352.86 110.43 
L 353.45 108.86 
L 354.03 108.57 
L 354.62 111.46 
L 355.2 113.43 
L 355.79 108.91 
L 356.38 111.33 
L 356.96 115.1 
L 357.55 116.91 
L 358.13 120.38 
L 358.72 124.51 
L 359.31 123.77 
L 359.89 130.31 
L 360.48 129.44 
L 361.06 133.89 
L 361.65 136.48 
L 362.24 135.72 
L 362.82 140.17 
L 363.41 146.03 
L 363.99 148.39 
L 364.58 152.59 
L 365.17 155.62 
L 365.75 155.94 
L 366.34 156.52 
L 366.92 160.32 
L 367.51 161.19 
L 368.1 161.97 
L 368.68 165.37 
L 369.27 163.19 
L 369.85 160.84 
L 370.44 163.65 
L 371.03 162.33 
L 371.61 159.78 
L 372.2 161.18 
L 372.78 157.19 
L 373.37 154.67 
L 373.96 151.82 
L 374.54 149.97 
L 375.13 150.45 
L 375.71 148.12 
L 376.3 146.05 
L 376.89 143.25 
L 377.47 141.21 
L 378.06 135.66 
L 378.64 133.09 
L 379.23 133.64 
L 379.82 130.02 
L 380.4 130.8 
L 380.99 127.37 
L 381.57 127.03 
L 382.16 127.13 
L 382.75 124.73 
L 383.33 123.19 
L 383.92 124.91 
L 384.5 124.33 
L 385.09 126.16 
L 385.68 126.13 
L 386.26 127.82 
L 386.85 127.82 
L 387.43 131.49 
L 388.02 131.94 
L 388.61 133.08 
L 389.19 134.37 
L 389.78 136.89 
L 390.36 140.69 
L 390.95 144.36 
L 391.54 148.15 
L 392.12 147.67 
L 392.71 149.16 
L 393.29 150.74 
L 393.88 159.64 
L 394.47 157.6 
L 395.05 158.59 
L 395.64 160.97 
L 396.22 159.61 
L 396.81 160.48 
L 397.4 161.54 
L 397.98 160.98 
L 398.57 163.19 
L 399.15 160.92 
L 399.74 160.65 
L 400.33 155.9 
L 400.91 158.64 
L 401.5 152.31 
L 402.08 149.16 
L 402.67 148.11 
L 403.26 144.21 
L 403.84 144.05 
L 404.43 138.5 
L 405.01 133.92 
L 405.6 128.56 
L 406.19 127.76 
L 406.77 124.47 
L 407.36 123.16 
L 407.94 120.01 
L 408.53 114.22 
L 409.12 113.93 
L 409.7 109.88 
L 410.29 109.19 
L 410.87 105.04 
L 411.46 102.3 
L 412.05 106.42 
L 412.63 101.88 
L 413.22 103.48 
L 413.8 104.15 
L 414.39 105.08 
L 414.98 103.47 
L 415.56 107.67 
L 416.15 108.39 
L 416.73 110.51 
L 417.32 109.52 
L 417.91 111.22 
L 418.49 113.31 
L 419.08 116.6 
L 419.66 119.57 
L 420.25 124.3 
L 420.84 124.47 
L 421.42 126.14 
L 422.01 128.73 
L 422.59 128.72 
L 423.18 134.04 
L 423.77 135.75 
L 424.35 140.73 
L 424.94 138 
L 425.52 138.8 
L 426.11 141.79 
L 426.7 140.51 
L 427.28 144.36 
L 427.87 142.32 
L 428.45 137.37 
L 429.04 139.55 
L 429.63 138.03 
L 430.21 136.27 
L 430.8 135.64 
L 431.38 133.89 
L 431.97 129.06 
L 432.56 130.05 
L 433.14 127.46 
L 433.73 125.97 
L 434.31 123.97 
L 434.9 123.54 
L 435.49 120.97 
L 436.07 112.56 
L 436.66 111.52 
L 437.24 110.84 
L 437.83 109 
L 438.42 105.24 
L 439 107.01 
L 439.59 100.59 
L 440.17 104.14 
L 440.76 103.47 
L 441.35 106.32 
L 441.93 98.91 
L 442.52 101.54 
L 443.1 100.92 
L 443.69 105.67 
L 444.28 105.18 
L 444.86 105.61 
L 445.45 108.62 
L 446.03 106.96 
L 446.62 110.46 
L 447.21 113.99 
L 447.79 120.4 
L 448.38 120.53 
L 448.96 122.82 
L 449.55 127.63 
L 450.14 131.36 
L 450.72 133.96 
L 451.31 139.44 
L 451.89 139.91 
L 452.48 140.57 
L 453.07 147.68 
L 453.65 148.02 
L 454.24 149.61 
L 454.82 153.95 
L 455.41 152.74 
L 456 157.02 
L 456.58 156.65 
L 457.17 157.96 
L 457.75 156.54 
L 458.34 155.86 
L 458.93 155.17 
L 459.51 153.25 
L 460.1 155.5 
L 460.68 147.94 
L 461.27 149.7 
L 461.86 148.3 
L 462.44 143.87 
L 463.03 142.48 
L 463.61 140.02 
L 464.2 49.55 
L 464.79 134.16 
L 465.37 131.17 
L 465.96 129.7 
L 466.54 126.44 
L 467.13 124.1 
L 467.72 122.68 
L 468.3 118.85 
L 468.89 118.53 
L 469.47 119.83 
L 470.06 115.79 
L 470.65 115.45 
L 471.23 115.5 
L 471.82 115.76 
L 472.4 111.96 
L 472.99 116.31 
L 473.58 116.09 
L 474.16 119.14 
L 474.75 117.62 
L 475.33 121.93 
L 475.92 124.64 
L 476.51 128.4 
L 477.09 127.15 
L 477.68 129.17 
L 478.26 135.12 
L 478.85 136.21 
L 479.44 136.84 
L 480.02 138.24 
L 480.61 144.25 
L 481.19 145.74 
L 481.78 145.52 
L 482.37 149.36 
L 482.95 150.98 
L 483.54 152.3 
L 484.12 153.65 
L 484.71 151.63 
L 485.3 152.28 
L 485.88 154.42 
L 486.47 153.08 
L 487.05 149.94 
L 487.64 150.06 
L 488.23 147.14 
L 488.81 147.51 
L 489.4 143.08 
L 489.98 143.41 
L 490.57 137.35 
L 491.16 137.36 
L 491.74 135.02 
L 492.33 132.66 
L 492.91 128.77 
L 493.5 125.02 
L 494.09 122.35 
L 494.67 117.86 
L 495.26 114.25 
L 495.84 109.54 
L 496.43 110.45 
L 497.02 104.73 
L 497.6 106.09 
L 498.19 103.06 
L 498.77 101.03 
L 499.36 97.73 
L 499.95 100.03 
L 500.53 98.66 
L 501.12 94.91 
L 501.7 92.93 
L 502.29 94.6 
L 502.88 99.04 
L 503.46 98.06 
L 504.05 97.69 
L 504.63 99.61 
L 505.22 105.28 
L 505.81 104.27 
L 506.39 109.64 
L 506.98 110.89 
L 507.56 108.42 
L 508.15 111.98 
L 508.74 118.14 
L 509.32 121.06 
L 509.91 120.54 
L 510.49 123.75 
L 511.08 124.29 
L 511.67 128.7 
L 512.25 128.96 
L 512.84 129.94 
L 513.42 132.79 
L 514.01 135.54 
L 514.6 135.54 
L 515.18 134.53 
L 515.77 134.03 
L 516.35 132.61 
L 516.94 133.12 
L 517.53 130.3 
L 518.11 131.31 
L 518.7 125.05 
L 519.28 122.96 
L 519.87 124.07 
L 520.46 122.7 
L 521.04 117.06 
L 521.63 116.6 
L 522.21 114.44 
L 522.8 112.9 
L 523.39 111.02 
L 523.97 108.85 
L 524.56 103.85 
L 525.14 100.33 
L 525.73 101.81 
L 526.32 98.96 
L 526.9 96.65 
L 527.49 96.48 
L 528.07 94.95 
L 528.66 94.24 
L 529.25 96.74 
L 529.83 94.79 
L 530.42 94.9 
L 531 90.38 
L 531.59 94.01 
L 532.18 97.65 
L 532.76 97.87 
L 533.35 98.42 
L 533.93 100.11 
L 534.52 105 
L 535.11 108.48 
L 535.69 113.4 
L 536.28 114.72 
L 536.86 117.89 
L 537.45 121.96 
L 538.04 119.9 
L 538.62 129.74 
L 539.21 129.23 
L 539.79 132.03 
L 540.38 135.46 
L 540.97 135.65 
L 541.55 141.32 
L 542.14 143.22 
L 542.72 142.87 
L 543.31 145.83 
L 543.9 146.39 
L 544.48 148.79 
L 545.07 144.75 
L 545.65 149.33 
L 546.24 147.05 
L 546.83 144.73 
L 547.41 142.37 
L 548 142.14 
L 548.58 143.49 
L 549.17 140.91 
L 549.76 140.34 
L 550.34 137.78 
L 550.93 134.98 
L 551.51 128.37 
L 552.1 128.28 
L 552.69 126.43 
L 553.27 124.39 
L 553.86 123.79 
L 554.44 116.23 
L 555.03 119.59 
L 555.62 114 
L 556.2 114.49 
L 556.79 112.74 
L 557.37 111.98 
L 557.96 106.96 
L 558.55 107.77 
L 559.13 102.54 
L 559.72 109.24 
L 560.3 108.87 
L 560.89 108.42 
L 561.48 107.86 
L 562.06 110.49 
L 562.65 115.27 
L 563.23 111.33 
L 563.82 114.6 
L 564.41 116.89 
L 564.99 120.5 
L 565.58 121.85 
L 566.16 124.94 
L 566.75 127.11 
L 567.34 129.43 
L 567.92 130.46 
L 568.51 135.32 
L 569.09 136.24 
L 569.68 137.6 
L 570.27 139.73 
L 570.85 142.2 
L 571.44 142.49 
L 572.02 142.16 
L 572.61 145.21 
L 573.2 144.23 
L 573.78 140.97 
L 574.37 144.26 
L 574.95 144.03 
L 575.54 144.64 
L 576.13 140.3 
L 576.71 141.32 
L 577.3 138.84 
L 577.88 135.35 
L 578.47 133.5 
L 579.06 127.28 
L 579.64 128.71 
L 580.23 120.7 
L 580.81 121.23 
L 581.4 115.61 
L 581.99 111.44 
L 582.57 109.23 
L 583.16 106.19 
L 583.74 105.29 
L 584.33 104.43 
L 584.92 98.65 
L 585.5 98.97 
L 586.09 94.7 
L 586.67 90.19 
L 587.26 90.29 
L 587.85 90.59 
L 588.43 90.3 
L 589.02 88.52 
L 589.6 88.43 
L 590.19 90.82 
L 590.78 89.72 
L 591.36 90.36 
L 591.95 91.14 
L 592.53 91.52 
L 593.12 93.09 
L 593.71 94.47 
L 594.29 98.89 
L 594.88 100.92 
L 595.46 102.6 
L 596.05 103.1 
L 596.64 106.18 
L 597.22 110.47 
L 597.81 112.14 
L 598.39 112.22 
L 598.98 119.31 
L 599.57 118.34 
L 600.15 121.72 
L 600.74 121.17 
L 601.32 123.13 
L 601.91 125.2 
L 602.5 126.54 
L 603.08 125.22 
L 603.67 123.77 
L 604.25 122.78 
L 604.84 125.56 
L 605.43 123.81 
L 606.01 115.21 
L 606.6 118.69 
L 607.18 117.41 
L 607.77 115.68 
L 608.36 118.11 
L 608.94 109.71 
L 609.53 108.58 
L 610.11 108.8 
L 610.7 102.71 
L 611.29 102.37 
L 611.87 100.28 
L 612.46 95.91 
L 613.04 93.95 
L 613.63 92.5 
L 614.22 90.28 
L 614.8 90.6 
L 615.39 89.49 
L 615.97 84.91 
L 616.56 83.47 
L 617.15 85.07 
L 617.73 84.65 
L 618.32 86.19 
L 618.9 86.79 
L 619.49 89.34 
L 620.08 85.44 
L 620.66 91.3 
L 621.25 91.18 
L 621.83 93.94 
L 622.42 99.58 
L 623.01 97.62 
L 623.59 103.33 
L 624.18 107.59 
L 624.76 108.67 
L 625.35 113.23 
L 625.94 115.42 
L 626.52 119.92 
L 627.11 120.98 
L 627.69 123.48 
L 628.28 129.09 
L 628.87 127.65 
L 629.45 131.67 
L 630.04 135.74 
L 630.62 134.61 
L 631.21 137.08 
L 631.8 134.35 
L 632.38 139.12 
L 632.97 138.47 
L 633.55 139.39 
L 634.14 138.51 
L 634.73 136.9 
L 635.31 137 
L 635.9 133.96 
L 636.48 136.42 
L 637.07 135.44 
L 637.66 130.18 
L 638.24 128.49 
L 638.83 125.04 
L 639.41 121.57 
L 640 121.34 
L 640.59 115.76 
L 641.17 114.94 
L 641.76 112.06 
L 642.34 108.27 
L 642.93 106.76 
L 643.52 106.13 
L 644.1 104.47 
L 644.69 104.07 
L 645.27 101.83 
L 645.86 99.75 
L 646.45 98.65 
L 647.03 100.52 
L 647.62 97.27 
L 648.2 95.56 
L 648.79 96.35 
L 649.38 100.68 
L 649.96 99.9 
L 650.55 102.1 
L 651.13 104.72 
L 651.72 105.74 
L 652.31 108.28 
L 652.89 110 
L 653.48 114.34 
" clip-path="url(#pe3ca237a5c)" style="fill: none; stroke: #0000ff; stroke-opacity: 0.8; stroke-width: 0.95; stroke-linecap: square"/>
</g>
<g id="patch_5">
<path d="M 24.45 196.9 
L 24.45 41.5 
" style="fill: none; stroke: #d9d9d9; stroke-linejoin: miter; stroke-linecap: square"/>
</g>
<g id="patch_6">
<path d="M 683.5 196.9 
L 683.5 41.5 
" style="fill: none; stroke: #d9d9d9; stroke-linejoin: miter; stroke-linecap: square"/>
</g>
<g id="patch_7">
<path d="M 24.45 196.9 
L 683.5 196.9 
" style="fill: none; stroke: #d9d9d9; stroke-linejoin: miter; stroke-linecap: square"/>
</g>
<g id="patch_8">
<path d="M 24.45 41.5 
L 683.5 41.5 
" style="fill: none; stroke: #d9d9d9; stroke-linejoin: miter; stroke-linecap: square"/>
</g>
<g id="text_15">
<text style="font-size: 8.6px; font-family: 'Liberation Sans', 'DejaVu Sans', sans-serif; text-anchor: middle; fill: #262626" x="353.98" y="38.6" transform="rotate(-0 353.98 38.6)">Time Domain Comparison</text>
</g>
<g id="PathCollection_1"><circle cx="464.2" cy="49.55" r="2.92" fill="#ff0000"/></g>
</g>
<g id="axes_2">
<g id="patch_9">
<path d="M 24.45 382 
L 683.5 382 
L 683.5 226.75 
L 24.45 226.75 
z
" style="fill: #ffffff"/>
</g>
<g id="matplotlib.axis_3">
<g id="xtick_7">
<g id="line2d_29">
<path d="M 54 382 
L 54 226.75 
" clip-path="url(#pcb13579950)" style="fill: none; stroke: #e6e6e6; stroke-linecap: square"/>
</g>
<g id="line2d_30"/>
<g id="text_16">
<text style="font-size: 5.5px; font-family: 'Liberation Sans', 'DejaVu Sans', sans-serif; text-anchor: middle; fill: #262626" x="54" y="389.89" transform="rotate(-0 54 389.89)">0</text>
</g>
</g>
<g id="xtick_8">
<g id="line2d_31">
<path d="M 129.06 382 
L 129.06 226.75 
" clip-path="url(#pcb13579950)" style="fill: none; stroke: #e6e6e6; stroke-linecap: square"/>
</g>
<g id="line2d_32"/>
<g id="text_17">
<text style="font-size: 5.5px; font-family: 'Liberation Sans', 'DejaVu Sans', sans-serif; text-anchor: middle; fill: #262626" x="129.06" y="389.89" transform="rotate(-0 129.06 389.89)">50</text>
</g>
</g>
<g id="xtick_9">
<g id="line2d_33">
<path d="M 204.12 382 
L 204.12 226.75 
" clip-path="url(#pcb13579950)" style="fill: none; stroke: #e6e6e6; stroke-linecap: square"/>
</g>
<g id="line2d_34"/>
<g id="text_18">
<text style="font-size: 5.5px; font-family: 'Liberation Sans', 'DejaVu Sans', sans-serif; text-anchor: middle; fill: #262626" x="204.12" y="389.89" transform="rotate(-0 204.12 389.89)">100</text>
</g>
</g>
<g id="xtick_10">
<g id="line2d_35">
<path d="M 279.19 382 
L 279.19 226.75 
" clip-path="url(#pcb13579950)" style="fill: none; stroke: #e6e6e6; stroke-linecap: square"/>
</g>
<g id="line2d_36"/>
<g id="text_19">
<text style="font-size: 5.5px; font-family: 'Liberation Sans', 'DejaVu Sans', sans-serif; text-anchor: middle; fill: #262626" x="279.19" y="389.89" transform="rotate(-0 279.19 389.89)">150</text>
</g>
</g>
<g id="xtick_11">
<g id="line2d_37">
<path d="M 354.25 382 
L 354.25 226.75 
" clip-path="url(#pcb13579950)" style="fill: none; stroke: #e6e6e6; stroke-linecap: square"/>
</g>
<g id="line2d_38"/>
<g id="text_20">
<text style="font-size: 5.5px; font-family: 'Liberation Sans', 'DejaVu Sans', sans-serif; text-anchor: middle; fill: #262626" x="354.25" y="389.89" transform="rotate(-0 354.25 389.89)">200</text>
</g>
</g>
<g id="xtick_12">
<g id="line2d_39">
<path d="M 429.31 382 
L 429.31 226.75 
" clip-path="url(#pcb13579950)" style="fill: none; stroke: #e6e6e6; stroke-linecap: square"/>
</g>
<g id="line2d_40"/>
<g id="text_21">
<text style="font-size: 5.5px; font-family: 'Liberation Sans', 'DejaVu Sans', sans-serif; text-anchor: middle; fill: #262626" x="429.31" y="389.89" transform="rotate(-0 429.31 389.89)">250</text>
</g>
</g>
<g id="xtick_13">
<g id="line2d_41">
<path d="M 504.38 382 
L 504.38 226.75 
" clip-path="url(#pcb13579950)" style="fill: none; stroke: #e6e6e6; stroke-linecap: square"/>
</g>
<g id="line2d_42"/>
<g id="text_22">
<text style="font-size: 5.5px; font-family: 'Liberation Sans', 'DejaVu Sans', sans-serif; text-anchor: middle; fill: #262626" x="504.38" y="389.89" transform="rotate(-0 504.38 389.89)">300</text>
</g>
</g>
<g id="xtick_14">
<g id="line2d_43">
<path d="M 579.44 382 
L 579.44 226.75 
" clip-path="url(#pcb13579950)" style="fill: none; stroke: #e6e6e6; stroke-linecap: square"/>
</g>
<g id="line2d_44"/>
<g id="text_23">
<text style="font-size: 5.5px; font-family: 'Liberation Sans', 'DejaVu Sans', sans-serif; text-anchor: middle; fill: #262626" x="579.44" y="389.89" transform="rotate(-0 579.44 389.89)">350</text>
</g>
</g>
<g id="xtick_15">
<g id="line2d_45">
<path d="M 654.5 382 
L 654.5 226.75 
" clip-path="url(#pcb13579950)" style="fill: none; stroke: #e6e6e6; stroke-linecap: square"/>
</g>
<g id="line2d_46"/>
<g id="text_24">
<text style="font-size: 5.5px; font-family: 'Liberation Sans', 'DejaVu Sans', sans-serif; text-anchor: middle; fill: #262626" x="654.5" y="389.89" transform="rotate(-0 654.5 389.89)">400</text>
</g>
</g>
<g id="text_25">
<text style="font-size: 6.5px; font-family: 'Liberation Sans', 'DejaVu Sans', sans-serif; text-anchor: middle; fill: #262626" x="353.98" y="398.24" transform="rotate(-0 353.98 398.24)">Frequency (Hz)</text>
</g>
</g>
<g id="matplotlib.axis_4">
<g id="ytick_8">
<g id="line2d_47">
<path d="M 24.45 360.35 
L 683.5 360.35 
" clip-path="url(#pcb13579950)" style="fill: none; stroke: #e6e6e6; stroke-linecap: square"/>
</g>
<g id="line2d_48"/>
</g>
<g id="ytick_9">
<g id="line2d_49">
<path d="M 24.45 326.4 
L 683.5 326.4 
" clip-path="url(#pcb13579950)" style="fill: none; stroke: #e6e6e6; stroke-linecap: square"/>
</g>
<g id="line2d_50"/>
</g>
<g id="ytick_10">
<g id="line2d_51">
<path d="M 24.45 292.45 
L 683.5 292.45 
" clip-path="url(#pcb13579950)" style="fill: none; stroke: #e6e6e6; stroke-linecap: square"/>
</g>
<g id="line2d_52"/>
</g>
<g id="ytick_11">
<g id="line2d_53">
<path d="M 24.45 258.5 
L 683.5 258.5 
" clip-path="url(#pcb13579950)" style="fill: none; stroke: #e6e6e6; stroke-linecap: square"/>
</g>
<g id="line2d_54"/>
</g>
<g id="ytick_12">
<g id="line2d_55"/>
</g>
<g id="ytick_13">
<g id="line2d_56"/>
</g>
<g id="ytick_14">
<g id="line2d_57"/>
</g>
<g id="ytick_15">
<g id="line2d_58"/>
</g>
<g id="ytick_16">
<g id="line2d_59"/>
</g>
<g id="ytick_17">
<g id="line2d_60"/>
</g>
<g id="ytick_18">
<g id="line2d_61"/>
</g>
<g id="ytick_19">
<g id="line2d_62"/>
</g>
<g id="ytick_20">
<g id="line2d_63"/>
</g>
<g id="ytick_21">
<g id="line2d_64"/>
</g>
<g id="ytick_22">
<g id="line2d_65"/>
</g>
<g id="ytick_23">
<g id="line2d_66"/>
</g>
<g id="ytick_24">
<g id="line2d_67"/>
</g>
<g id="ytick_25">
<g id="line2d_68"/>
</g>
<g id="ytick_26">
<g id="line2d_69"/>
</g>
<g id="ytick_27">
<g id="line2d_70"/>
</g>
<g id="ytick_28">
<g id="line2d_71"/>
</g>
<g id="ytick_29">
<g id="line2d_72"/>
</g>
<g id="ytick_30">
<g id="line2d_73"/>
</g>
<g id="ytick_31">
<g id="line2d_74"/>
</g>
<g id="ytick_32">
<g id="line2d_75"/>
</g>
<g id="ytick_33">
<g id="line2d_76"/>
</g>
<g id="ytick_34">
<g id="line2d_77"/>
</g>
<g id="ytick_35">
<g id="line2d_78"/>
</g>
<g id="ytick_36">
<g id="line2d_79"/>
</g>
<g id="ytick_37">
<g id="line2d_80"/>
</g>
<g id="ytick_38">
<g id="line2d_81"/>
</g>
<g id="ytick_39">
<g id="line2d_82"/>
</g>
<g id="ytick_40">
<g id="line2d_83"/>
</g>
<g id="ytick_41">
<g id="line2d_84"/>
</g>
<g id="ytick_42">
<g id="line2d_85"/>
</g>
<g id="ytick_43">
<g id="line2d_86"/>
</g>
<g id="ytick_44">
<g id="line2d_87"/>
</g>
<g id="ytick_45">
<g id="line2d_88"/>
</g>
<g id="ytick_46">
<g id="line2d_89"/>
</g>
<g id="ytick_47">
<g id="line2d_90"/>
</g>
<g id="ytick_48">
<g id="line2d_91"/>
</g>
<g id="ytick_49">
<g id="line2d_92"/>
</g>
</g>
<g id="line2d_93">
<path d="M 54 234.16 
L 55.17 251.29 
L 56.35 261.2 
L 57.52 266.59 
L 58.69 269.98 
L 59.86 271.7 
L 61.04 269.72 
L 62.21 263.24 
L 63.38 298.68 
L 64.56 292.04 
L 65.73 288.97 
L 66.9 289.72 
L 68.07 289.14 
L 69.25 290.73 
L 70.42 289.09 
L 71.59 285.93 
L 72.77 284.91 
L 73.94 282.23 
L 75.11 277.64 
L 76.28 270.85 
L 77.46 254.3 
L 78.63 255.54 
L 79.8 271.12 
L 80.98 279 
L 82.15 283.69 
L 83.32 287.64 
L 84.49 288.7 
L 85.67 291.75 
L 86.84 291.72 
L 88.01 295.66 
L 89.19 296.25 
L 90.36 296.64 
L 91.53 297.97 
L 92.7 298.76 
L 93.88 299.81 
L 95.05 300.9 
L 96.22 300.31 
L 97.4 300.56 
L 98.57 303.7 
L 99.74 302.52 
L 100.91 303.97 
L 102.09 305.25 
L 103.26 304.02 
L 104.43 304.26 
L 105.61 304.69 
L 106.78 305.38 
L 107.95 311.2 
L 109.12 311.08 
L 110.3 303.98 
L 111.47 307.3 
L 112.64 316.76 
L 113.82 306.78 
L 114.99 308.24 
L 116.16 308.45 
L 117.33 306.19 
L 118.51 310.85 
L 119.68 313.46 
L 120.85 311 
L 122.03 308.44 
L 123.2 309.87 
L 124.37 309.75 
L 125.54 312.02 
L 126.72 309.2 
L 127.89 315.39 
L 129.06 315.59 
L 130.24 315.85 
L 131.41 314.59 
L 132.58 313.31 
L 133.75 313.72 
L 134.93 315.48 
L 136.1 317.17 
L 137.27 310.05 
L 138.45 313.4 
L 139.62 316.01 
L 140.79 315.91 
L 141.96 318.51 
L 143.14 310.76 
L 144.31 313.67 
L 145.48 315.5 
L 146.66 312.59 
L 147.83 315.36 
L 149 311.67 
L 150.17 312.37 
L 151.35 316.67 
L 152.52 316.47 
L 153.69 314.39 
L 154.87 317.19 
L 156.04 314.83 
L 157.21 318.46 
L 158.38 311.09 
L 159.56 320.95 
L 160.73 318.1 
L 161.9 321.89 
L 163.08 312.05 
L 164.25 328.04 
L 165.42 318.17 
L 166.59 317.97 
L 167.77 325.4 
L 168.94 320.07 
L 170.11 314.44 
L 171.29 319.15 
L 172.46 318.06 
L 173.63 320.33 
L 174.8 318.11 
L 175.98 321.41 
L 177.15 330.49 
L 178.32 334.95 
L 179.5 316.18 
L 180.67 320.97 
L 181.84 322.01 
L 183.01 319.18 
L 184.19 313.97 
L 185.36 317.22 
L 186.53 324.89 
L 187.71 323.86 
L 188.88 323.88 
L 190.05 318.19 
L 191.22 320.64 
L 192.4 317.09 
L 193.57 315.82 
L 194.74 320.61 
L 195.92 316.21 
L 197.09 339.91 
L 198.26 333.88 
L 199.43 323.56 
L 200.61 335.21 
L 201.78 331.33 
L 202.95 318.74 
L 204.12 321.08 
L 205.3 322.45 
L 206.47 325.72 
L 207.64 321.64 
L 208.82 337.37 
L 209.99 330.84 
L 211.16 331.34 
L 212.33 312.89 
L 213.51 322.61 
L 214.68 336.04 
L 215.85 317.37 
L 217.03 325.56 
L 218.2 325.77 
L 219.37 319.11 
L 220.54 318.37 
L 221.72 323.23 
L 222.89 325.81 
L 224.06 319.12 
L 225.24 340.67 
L 226.41 317.36 
L 227.58 316.3 
L 228.75 324.03 
L 229.93 324.04 
L 231.1 334.21 
L 232.27 324.98 
L 233.45 324.01 
L 234.62 336.86 
L 235.79 342.75 
L 236.96 324.02 
L 238.14 327.28 
L 239.31 345.17 
L 240.48 322.27 
L 241.66 334.83 
L 242.83 320.36 
L 244 327.49 
L 245.17 317.42 
L 246.35 314.62 
L 247.52 323.64 
L 248.69 333.55 
L 249.87 330.12 
L 251.04 320.46 
L 252.21 344.15 
L 253.38 320.38 
L 254.56 329.31 
L 255.73 326.01 
L 256.9 318.72 
L 258.08 325.2 
L 259.25 326.3 
L 260.42 326.8 
L 261.59 321.34 
L 262.77 333.56 
L 263.94 357.66 
L 265.11 318.51 
L 266.29 326.6 
L 267.46 322.63 
L 268.63 334.28 
L 269.8 323.11 
L 270.98 323.25 
L 272.15 316.36 
L 273.32 331.77 
L 274.5 315.6 
L 275.67 319.43 
L 276.84 326.6 
L 278.01 331.36 
L 279.19 317.99 
L 280.36 323.87 
L 281.53 328.3 
L 282.71 318.7 
L 283.88 325.92 
L 285.05 329.57 
L 286.22 318.53 
L 287.4 332.21 
L 288.57 348.72 
L 289.74 321.02 
L 290.92 321.74 
L 292.09 323.79 
L 293.26 329.01 
L 294.43 325.98 
L 295.61 326.67 
L 296.78 351.68 
L 297.95 321.65 
L 299.13 332.08 
L 300.3 324.72 
L 301.47 332.97 
L 302.64 338.47 
L 303.82 321.46 
L 304.99 320.2 
L 306.16 332.44 
L 307.34 331.18 
L 308.51 334.94 
L 309.68 339.2 
L 310.85 323.34 
L 312.03 328.16 
L 313.2 322.21 
L 314.37 322.98 
L 315.55 324.68 
L 316.72 333.92 
L 317.89 338.04 
L 319.06 331.55 
L 320.24 327.79 
L 321.41 319.01 
L 322.58 333.1 
L 323.76 333.37 
L 324.93 335.37 
L 326.1 323.14 
L 327.27 334.57 
L 328.45 338.66 
L 329.62 335.92 
L 330.79 325.59 
L 331.97 318.28 
L 333.14 327.28 
L 334.31 325.54 
L 335.48 318.64 
L 336.66 320.83 
L 337.83 320.19 
L 339 323.22 
L 340.18 325.79 
L 341.35 338.47 
L 342.52 325.81 
L 343.69 324.6 
L 344.87 331.73 
L 346.04 329.07 
L 347.21 333.34 
L 348.39 327.7 
L 349.56 331.85 
L 350.73 319.66 
L 351.9 325.64 
L 353.08 345.17 
L 354.25 335.9 
L 355.42 324.89 
L 356.6 326.11 
L 357.77 348.07 
L 358.94 333.7 
L 360.11 328.54 
L 361.29 327.09 
L 362.46 333.44 
L 363.63 340.67 
L 364.81 327.17 
L 365.98 330.19 
L 367.15 339.86 
L 368.32 330.29 
L 369.5 335.38 
L 370.67 329.57 
L 371.84 334 
L 373.02 323.12 
L 374.19 319.83 
L 375.36 330.46 
L 376.53 330.64 
L 377.71 315.95 
L 378.88 334.53 
L 380.05 334.15 
L 381.23 338.86 
L 382.4 330.13 
L 383.57 328.16 
L 384.74 336.57 
L 385.92 320.13 
L 387.09 325.9 
L 388.26 331.76 
L 389.44 323.01 
L 390.61 330.54 
L 391.78 321.27 
L 392.95 369.16 
L 394.13 329.9 
L 395.3 321.99 
L 396.47 326.93 
L 397.65 322.68 
L 398.82 328.16 
L 399.99 329.11 
L 401.16 333.02 
L 402.34 336.26 
L 403.51 326.84 
L 404.68 326.37 
L 405.86 321.99 
L 407.03 322.86 
L 408.2 339.55 
L 409.37 317.98 
L 410.55 337.45 
L 411.72 337.83 
L 412.89 320.67 
L 414.07 330.91 
L 415.24 330.15 
L 416.41 325.45 
L 417.58 319.06 
L 418.76 326.51 
L 419.93 337.63 
L 421.1 329.3 
L 422.28 333.09 
L 423.45 329.03 
L 424.62 331.72 
L 425.79 347.44 
L 426.97 338.23 
L 428.14 325.13 
L 429.31 331.49 
L 430.49 330.97 
L 431.66 326.95 
L 432.83 331.42 
L 434 333.91 
L 435.18 330.62 
L 436.35 332.43 
L 437.52 330.88 
L 438.7 333.17 
L 439.87 344.15 
L 441.04 327.09 
L 442.21 329.4 
L 443.39 333.51 
L 444.56 337.81 
L 445.73 336.06 
L 446.91 328.51 
L 448.08 327.06 
L 449.25 330.04 
L 450.42 326.12 
L 451.6 339.17 
L 452.77 325.57 
L 453.94 336.42 
L 455.12 337.17 
L 456.29 322.9 
L 457.46 322.41 
L 458.63 328.22 
L 459.81 324.34 
L 460.98 319.09 
L 462.15 335.54 
L 463.33 329.15 
L 464.5 321.37 
L 465.67 336.01 
L 466.84 324.21 
L 468.02 330.52 
L 469.19 335.68 
L 470.36 333.01 
L 471.54 322.47 
L 472.71 334.17 
L 473.88 335.29 
L 475.05 342.75 
L 476.23 326.61 
L 477.4 335.23 
L 478.57 330.81 
L 479.75 319.19 
L 480.92 335.97 
L 482.09 333.1 
L 483.26 329.69 
L 484.44 333.29 
L 485.61 328.66 
L 486.78 323.91 
L 487.96 333.04 
L 489.13 357.66 
L 490.3 329.06 
L 491.47 339.67 
L 492.65 319.55 
L 493.82 325.92 
L 494.99 338.15 
L 496.17 348.72 
L 497.34 318.51 
L 498.51 338.12 
L 499.68 333.74 
L 500.86 327.53 
L 502.03 322 
L 503.2 339.19 
L 504.38 331.95 
L 505.55 338.56 
L 506.72 326.78 
L 507.89 349.41 
L 509.07 337.76 
L 510.24 335.3 
L 511.41 326.31 
L 512.58 325.49 
L 513.76 324.42 
L 514.93 327.75 
L 516.1 339.53 
L 517.28 328.32 
L 518.45 348.07 
L 519.62 326.02 
L 520.79 325.67 
L 521.97 338.66 
L 523.14 339.6 
L 524.31 334.93 
L 525.49 345.71 
L 526.66 320.77 
L 527.83 335.94 
L 529 328.5 
L 530.18 321.54 
L 531.35 336.27 
L 532.52 324.79 
L 533.7 319.36 
L 534.87 337.77 
L 536.04 337.27 
L 537.21 336.04 
L 538.39 313.56 
L 539.56 337.4 
L 540.73 331.33 
L 541.91 333.23 
L 543.08 339.15 
L 544.25 334.14 
L 545.42 345.17 
L 546.6 332.74 
L 547.77 328.29 
L 548.94 330.29 
L 550.12 329.59 
L 551.29 333.45 
L 552.46 333.97 
L 553.63 332.12 
L 554.81 335.19 
L 555.98 335.95 
L 557.15 332.04 
L 558.33 326.74 
L 559.5 331.78 
L 560.67 327.45 
L 561.84 333.64 
L 563.02 323.95 
L 564.19 328.05 
L 565.36 330.08 
L 566.54 336.06 
L 567.71 323.45 
L 568.88 344.15 
L 570.05 331.61 
L 571.23 332.64 
L 572.4 328.56 
L 573.57 324.47 
L 574.75 321.06 
L 575.92 337.87 
L 577.09 348.07 
L 578.26 324.49 
L 579.44 334.11 
L 580.61 334.71 
L 581.78 323.47 
L 582.96 339.81 
L 584.13 329.12 
L 585.3 323.9 
L 586.47 373.86 
L 587.65 334.79 
L 588.82 338.23 
L 589.99 329.02 
L 591.17 330.65 
L 592.34 336.96 
L 593.51 321.29 
L 594.68 338.03 
L 595.86 364.2 
L 597.03 331.59 
L 598.2 336.54 
L 599.38 327.91 
L 600.55 339.88 
L 601.72 327.61 
L 602.89 333.95 
L 604.07 324.77 
L 605.24 338.6 
L 606.41 328 
L 607.59 335.3 
L 608.76 326.15 
L 609.93 322.25 
L 611.1 331.54 
L 612.28 355.39 
L 613.45 333.66 
L 614.62 330.93 
L 615.8 328.98 
L 616.97 333.13 
L 618.14 332.43 
L 619.31 320.7 
L 620.49 334.41 
L 621.66 337.35 
L 622.83 335.98 
L 624.01 337.51 
L 625.18 332.49 
L 626.35 333.85 
L 627.52 348.72 
L 628.7 335.12 
L 629.87 331.83 
L 631.04 335.08 
L 632.22 324.55 
L 633.39 328.3 
L 634.56 330.75 
L 635.73 334.48 
L 636.91 339.12 
L 638.08 339.68 
L 639.25 324.52 
L 640.43 335.15 
L 641.6 335.76 
L 642.77 322.27 
L 643.94 322.33 
L 645.12 333.51 
L 646.29 335.99 
L 647.46 324.05 
L 648.64 325.61 
L 649.81 327.98 
L 650.98 338.15 
L 652.15 326.44 
L 653.33 358.94 
L 654.5 328.16 
" clip-path="url(#pcb13579950)" style="fill: none; stroke-dasharray: 2.7,1.35; stroke-dashoffset: 0; stroke: #000000; stroke-opacity: 0.75; stroke-width: 0.9"/>
</g>
<g id="line2d_94">
<path d="M 54 234.29 
L 55.17 250.82 
L 56.35 262.77 
L 57.52 265.26 
L 58.69 270.52 
L 59.86 272.41 
L 61.04 267.92 
L 62.21 262.32 
L 63.38 289.14 
L 64.56 294.17 
L 65.73 288.12 
L 66.9 284.27 
L 68.07 298.12 
L 69.25 282.62 
L 70.42 287.1 
L 71.59 290.49 
L 72.77 280.69 
L 73.94 285.59 
L 75.11 277.75 
L 76.28 269.36 
L 77.46 254.82 
L 78.63 256.01 
L 79.8 271.4 
L 80.98 277.99 
L 82.15 284.59 
L 83.32 282.93 
L 84.49 291.26 
L 85.67 288.29 
L 86.84 291.55 
L 88.01 308.27 
L 89.19 286.78 
L 90.36 306.05 
L 91.53 297.72 
L 92.7 291.7 
L 93.88 311.65 
L 95.05 296.5 
L 96.22 303.87 
L 97.4 297.1 
L 98.57 298.58 
L 99.74 302.48 
L 100.91 298.94 
L 102.09 303.82 
L 103.26 297.74 
L 104.43 303.59 
L 105.61 317.18 
L 106.78 298.52 
L 107.95 305.73 
L 109.12 307.63 
L 110.3 302.74 
L 111.47 310.26 
L 112.64 310.97 
L 113.82 304.58 
L 114.99 300.69 
" clip-path="url(#pcb13579950)" style="fill: none; stroke: #0000ff; stroke-opacity: 0.8; stroke-width: 0.95; stroke-linecap: square"/>
</g>
<g id="line2d_95">
<path d="M 114.99 300.69 
L 116.16 314.33 
L 117.33 306.21 
L 118.51 301.31 
L 119.68 318.11 
L 120.85 308.1 
L 122.03 303.97 
L 123.2 313.03 
L 124.37 307.38 
L 125.54 306.54 
L 126.72 310 
L 127.89 320.03 
L 129.06 304.57 
L 130.24 308.13 
L 131.41 322.49 
L 132.58 303.14 
L 133.75 306.48 
L 134.93 322.71 
L 136.1 314.21 
L 137.27 304.21 
L 138.45 332.75 
L 139.62 309.17 
L 140.79 307.96 
L 141.96 325.06 
L 143.14 319.36 
L 144.31 304.98 
L 145.48 307.6 
L 146.66 313.37 
L 147.83 308.88 
L 149 313.47 
L 150.17 325.23 
L 151.35 315.16 
L 152.52 328.28 
L 153.69 323.43 
L 154.87 309.38 
L 156.04 313.7 
L 157.21 327.44 
L 158.38 307.22 
L 159.56 320.97 
L 160.73 324.87 
L 161.9 317.15 
L 163.08 304.1 
L 164.25 323.59 
L 165.42 311.51 
L 166.59 316.66 
L 167.77 311.88 
L 168.94 322.72 
L 170.11 306.93 
L 171.29 314.74 
L 172.46 315.84 
L 173.63 310.92 
L 174.8 314.15 
L 175.98 343.2 
L 177.15 309.71 
L 178.32 319.99 
L 179.5 326.68 
L 180.67 307.1 
L 181.84 308.83 
L 183.01 322.08 
L 184.19 308.89 
L 185.36 311.91 
L 186.53 316.91 
L 187.71 306.74 
L 188.88 306.94 
L 190.05 324.93 
L 191.22 318.13 
L 192.4 312.97 
L 193.57 311.81 
L 194.74 311.71 
L 195.92 313.19 
L 197.09 321.14 
L 198.26 323.49 
L 199.43 314.22 
L 200.61 316.56 
L 201.78 351.68 
L 202.95 312.7 
L 204.12 307.03 
L 205.3 323.17 
L 206.47 308.89 
L 207.64 325.96 
L 208.82 309.34 
L 209.99 322.03 
L 211.16 297.39 
L 212.33 307.77 
L 213.51 297.22 
L 214.68 311.22 
L 215.85 298.29 
L 217.03 298.79 
L 218.2 292.84 
L 219.37 297.68 
L 220.54 295.99 
L 221.72 301.59 
L 222.89 295.5 
L 224.06 298.89 
L 225.24 292.7 
L 226.41 297.16 
L 227.58 298.08 
L 228.75 301.31 
L 229.93 297.11 
L 231.1 296.62 
L 232.27 297.11 
L 233.45 294.5 
L 234.62 302.3 
L 235.79 301.58 
L 236.96 301.85 
L 238.14 301.15 
L 239.31 308.71 
L 240.48 302.66 
L 241.66 318.47 
L 242.83 314 
L 244 317.35 
L 245.17 306.97 
L 246.35 322.15 
L 247.52 311.31 
L 248.69 307.53 
L 249.87 338.84 
L 251.04 311.39 
L 252.21 316.68 
L 253.38 318.91 
L 254.56 320.55 
L 255.73 302.58 
L 256.9 325.98 
L 258.08 311.09 
L 259.25 322.93 
L 260.42 311.71 
L 261.59 326.24 
L 262.77 306.16 
L 263.94 321.46 
L 265.11 332.75 
L 266.29 322.55 
L 267.46 309.21 
L 268.63 312.89 
L 269.8 311.64 
L 270.98 315.21 
L 272.15 326.68 
L 273.32 312.28 
L 274.5 319.31 
L 275.67 326.98 
L 276.84 321.65 
L 278.01 309.46 
L 279.19 317.98 
L 280.36 315.15 
L 281.53 305.78 
L 282.71 324.5 
L 283.88 310.73 
L 285.05 314.84 
L 286.22 310.32 
L 287.4 325.22 
L 288.57 313.76 
L 289.74 325.97 
L 290.92 317.49 
L 292.09 314.01 
L 293.26 314.56 
L 294.43 324.76 
L 295.61 310.25 
L 296.78 312.61 
L 297.95 323.67 
L 299.13 323.31 
L 300.3 311.66 
L 301.47 318.53 
L 302.64 327.12 
L 303.82 314.57 
L 304.99 327.28 
L 306.16 316.87 
L 307.34 314.13 
L 308.51 324.64 
L 309.68 319.85 
L 310.85 308.92 
L 312.03 319.08 
L 313.2 315.48 
L 314.37 317.73 
L 315.55 313.92 
L 316.72 317.76 
L 317.89 315.86 
L 319.06 319.62 
L 320.24 338.84 
L 321.41 313.84 
L 322.58 315.15 
L 323.76 322.39 
L 324.93 318.99 
L 326.1 311.44 
L 327.27 326.16 
L 328.45 313.73 
L 329.62 314.19 
L 330.79 312.53 
L 331.97 342.31 
L 333.14 317.74 
L 334.31 315.18 
L 335.48 319.6 
L 336.66 308.69 
L 337.83 323.85 
L 339 319.59 
L 340.18 320.57 
L 341.35 310.82 
L 342.52 322.96 
L 343.69 318.35 
L 344.87 324.89 
L 346.04 320.6 
L 347.21 325.51 
L 348.39 316.51 
L 349.56 316.06 
L 350.73 325.18 
L 351.9 312.36 
L 353.08 320.69 
L 354.25 325.36 
L 355.42 316.43 
L 356.6 318.5 
L 357.77 325.25 
L 358.94 309.85 
L 360.11 311.01 
L 361.29 322.54 
L 362.46 323.26 
L 363.63 326.63 
L 364.81 321.74 
L 365.98 315.48 
L 367.15 313.71 
L 368.32 323.02 
L 369.5 319.99 
L 370.67 313.27 
L 371.84 326.83 
L 373.02 313.01 
L 374.19 307.98 
L 375.36 315.21 
L 376.53 326.56 
L 377.71 311.74 
L 378.88 314.3 
L 380.05 323.03 
L 381.23 316.91 
L 382.4 311.12 
L 383.57 343.67 
L 384.74 315.24 
L 385.92 313.02 
L 387.09 324.43 
L 388.26 321.33 
L 389.44 317.97 
L 390.61 318.9 
L 391.78 323.41 
L 392.95 317.82 
L 394.13 314.57 
L 395.3 330.45 
L 396.47 314.99 
L 397.65 324.47 
L 398.82 326.62 
L 399.99 305.29 
L 401.16 321.54 
L 402.34 321.56 
L 403.51 316.52 
L 404.68 315.94 
L 405.86 323.62 
L 407.03 313.03 
L 408.2 322.58 
L 409.37 320.66 
L 410.55 312.43 
L 411.72 310.99 
L 412.89 313.99 
L 414.07 319.27 
L 415.24 313.14 
L 416.41 319.54 
L 417.58 322.42 
L 418.76 319.09 
L 419.93 325.09 
L 421.1 321.64 
L 422.28 319.03 
L 423.45 317.16 
L 424.62 323.58 
L 425.79 310.96 
L 426.97 313.46 
L 428.14 314.39 
L 429.31 317.86 
L 430.49 320.34 
L 431.66 336.04 
L 432.83 318.34 
L 434 319.02 
L 435.18 326.72 
L 436.35 325.99 
L 437.52 312.02 
L 438.7 318.26 
L 439.87 337.85 
L 441.04 319.66 
L 442.21 323.58 
L 443.39 321.43 
L 444.56 321.52 
L 445.73 325.17 
L 446.91 326.68 
L 448.08 310.62 
L 449.25 317.91 
L 450.42 315.13 
L 451.6 322.54 
L 452.77 313.5 
L 453.94 323.24 
L 455.12 314.12 
L 456.29 310.81 
L 457.46 323.98 
L 458.63 326.1 
L 459.81 313.07 
L 460.98 310.89 
L 462.15 330.45 
L 463.33 307.74 
L 464.5 323.73 
L 465.67 326.44 
L 466.84 315.97 
L 468.02 312.24 
L 469.19 327.16 
L 470.36 311.45 
L 471.54 309.9 
L 472.71 321.68 
L 473.88 313.65 
L 475.05 322.43 
L 476.23 316.87 
L 477.4 315.55 
L 478.57 318.13 
L 479.75 326.56 
L 480.92 320.54 
L 482.09 309.65 
L 483.26 323.15 
L 484.44 316.55 
L 485.61 312.78 
L 486.78 320.45 
L 487.96 323.67 
L 489.13 311.39 
L 490.3 315.35 
L 491.47 322.12 
L 492.65 311.37 
L 493.82 327.28 
L 494.99 321.97 
L 496.17 314.43 
L 497.34 315.2 
L 498.51 326.36 
L 499.68 322.85 
L 500.86 313.61 
L 502.03 318.91 
L 503.2 319.44 
L 504.38 313.34 
L 505.55 317.64 
L 506.72 317.19 
L 507.89 311.14 
L 509.07 325.92 
L 510.24 314.12 
L 511.41 320.47 
L 512.58 325.24 
L 513.76 318.69 
L 514.93 315 
L 516.1 316.64 
L 517.28 319.1 
L 518.45 313.54 
L 519.62 311.88 
L 520.79 319.46 
L 521.97 315.27 
L 523.14 315.45 
L 524.31 323.62 
L 525.49 315.94 
L 526.66 314.53 
L 527.83 326.87 
L 529 313.91 
L 530.18 309.04 
L 531.35 313.52 
L 532.52 317.75 
L 533.7 339.91 
L 534.87 322.15 
L 536.04 324.95 
L 537.21 307.95 
L 538.39 321.84 
L 539.56 323.24 
L 540.73 316.84 
L 541.91 316.18 
L 543.08 326.03 
L 544.25 317.88 
L 545.42 312.99 
L 546.6 324.7 
L 547.77 315.3 
L 548.94 311.01 
L 550.12 320.25 
L 551.29 324.56 
L 552.46 320.58 
L 553.63 325.97 
L 554.81 356.48 
L 555.98 316.9 
L 557.15 320.81 
L 558.33 316.16 
L 559.5 312.7 
L 560.67 317.52 
L 561.84 317.18 
L 563.02 315.12 
L 564.19 322.74 
L 565.36 327.62 
L 566.54 323.98 
L 567.71 320.72 
L 568.88 319.23 
L 570.05 319.28 
L 571.23 314.05 
L 572.4 331.66 
L 573.57 320.83 
L 574.75 317.99 
L 575.92 322.29 
L 577.09 319.85 
L 578.26 321.93 
L 579.44 314.88 
L 580.61 326.1 
L 581.78 316.99 
L 582.96 317.9 
L 584.13 321.15 
L 585.3 319.24 
L 586.47 318.3 
L 587.65 314.2 
L 588.82 330.06 
L 589.99 315.19 
L 591.17 322.29 
L 592.34 312.4 
L 593.51 312.31 
L 594.68 313.86 
L 595.86 314.8 
L 597.03 315.27 
L 598.2 321.22 
L 599.38 320.28 
L 600.55 316.53 
L 601.72 317.67 
L 602.89 323.4 
L 604.07 330.45 
L 605.24 318.62 
L 606.41 321.72 
L 607.59 313.09 
L 608.76 314.98 
L 609.93 313.75 
L 611.1 324.13 
L 612.28 315.88 
L 613.45 322.47 
L 614.62 315.9 
L 615.8 343.67 
L 616.97 313.6 
L 618.14 319.36 
L 619.31 316.65 
L 620.49 324.31 
L 621.66 341.46 
L 622.83 313.42 
L 624.01 316.38 
L 625.18 316.37 
L 626.35 315.62 
L 627.52 316.59 
L 628.7 316.01 
L 629.87 311.89 
L 631.04 314.02 
L 632.22 316.9 
L 633.39 320.31 
L 634.56 323.76 
L 635.73 324.77 
L 636.91 315.34 
L 638.08 309.66 
L 639.25 327.56 
L 640.43 320.17 
L 641.6 312.76 
L 642.77 338.5 
L 643.94 319.27 
L 645.12 313.15 
L 646.29 315.88 
L 647.46 324.05 
L 648.64 315.46 
L 649.81 315.32 
L 650.98 319.81 
L 652.15 314.16 
L 653.33 317.31 
L 654.5 312.35 
" clip-path="url(#pcb13579950)" style="fill: none; stroke: #ff0000; stroke-width: 1.25; stroke-linecap: square"/>
</g>
<g id="line2d_96">
<path d="M 62.01 382 
L 62.01 226.75 
" clip-path="url(#pcb13579950)" style="fill: none; stroke-dasharray: 0.8,1.32; stroke-dashoffset: 0; stroke: #808080; stroke-width: 0.8"/>
</g>
<g id="line2d_97">
<path d="M 78.02 382 
L 78.02 226.75 
" clip-path="url(#pcb13579950)" style="fill: none; stroke-dasharray: 0.8,1.32; stroke-dashoffset: 0; stroke: #808080; stroke-width: 0.8"/>
</g>
<g id="patch_10">
<path d="M 24.45 382 
L 24.45 226.75 
" style="fill: none; stroke: #d9d9d9; stroke-linejoin: miter; stroke-linecap: square"/>
</g>
<g id="patch_11">
<path d="M 683.5 382 
L 683.5 226.75 
" style="fill: none; stroke: #d9d9d9; stroke-linejoin: miter; stroke-linecap: square"/>
</g>
<g id="patch_12">
<path d="M 24.45 382 
L 683.5 382 
" style="fill: none; stroke: #d9d9d9; stroke-linejoin: miter; stroke-linecap: square"/>
</g>
<g id="patch_13">
<path d="M 24.45 226.75 
L 683.5 226.75 
" style="fill: none; stroke: #d9d9d9; stroke-linejoin: miter; stroke-linecap: square"/>
</g>
<g id="text_26">
<text style="font-size: 8.6px; font-family: 'Liberation Sans', 'DejaVu Sans', sans-serif; text-anchor: middle; fill: #262626" x="353.98" y="223.35" transform="rotate(-0 353.98 223.35)">Frequency Domain Comparison (Fourier Transform)</text>
</g>
</g>
<g id="text_27">
<text style="font-size: 10.68px; font-family: 'Liberation Sans', 'DejaVu Sans', sans-serif; text-anchor: middle; fill: #262626" x="342.2" y="8.6" transform="rotate(-0 342.2 8.6)">Time Series Anomalies in Time and Frequency Domains</text>
</g>
</g>
<defs>
<clipPath id="pe3ca237a5c">
<rect x="24.45" y="41.5" width="659.05" height="155.4"/>
</clipPath>
<clipPath id="pcb13579950">
<rect x="24.45" y="226.75" width="659.05" height="155.25"/>
</clipPath>
</defs>
<text x="7.3" y="119.5" transform="rotate(-90 7.3 119.5)" style="font-size:6.5px;font-family:'Liberation Sans',Arial,sans-serif;fill:#262626;text-anchor:middle">Amplitude</text>
<text x="6.3" y="304.45" transform="rotate(-90 6.3 304.45)" style="font-size:6.5px;font-family:'Liberation Sans',Arial,sans-serif;fill:#262626;text-anchor:middle">Amplitude (Log Scale)</text>
<g id="logticks"><text x="20.45" y="261.17" style="font-size:5.5px;font-family:'Liberation Sans',Arial,sans-serif;fill:#262626;text-anchor:end">10<tspan dy="-3.6" style="font-size:3.85px">1</tspan></text>
<text x="20.45" y="295.12" style="font-size:5.5px;font-family:'Liberation Sans',Arial,sans-serif;fill:#262626;text-anchor:end">10<tspan dy="-3.6" style="font-size:3.85px">0</tspan></text>
<text x="20.45" y="329.07" style="font-size:5.5px;font-family:'Liberation Sans',Arial,sans-serif;fill:#262626;text-anchor:end">10<tspan dy="-3.6" style="font-size:3.85px">−1</tspan></text>
<text x="20.45" y="363.02" style="font-size:5.5px;font-family:'Liberation Sans',Arial,sans-serif;fill:#262626;text-anchor:end">10<tspan dy="-3.6" style="font-size:3.85px">−2</tspan></text>
</g>
<g id="legend_1"><rect x="551.7" y="152.3" width="128.60" height="41.70" rx="1.1" fill="#ffffff" fill-opacity="0.8" stroke="#cccccc" stroke-width="0.8"/>
<path d="M553.2 156.90H564.9" stroke="#000" stroke-opacity="0.6" stroke-width="0.8" stroke-dasharray="3 1.35" fill="none"/>
<path d="M553.2 164.95H564.9" stroke="#0000ff" stroke-opacity="0.8" stroke-width="1" fill="none"/>
<rect x="553.2" y="170.95" width="11.70" height="4.1" fill="orange" fill-opacity="0.3"/>
<rect x="553.2" y="179.05" width="11.70" height="4.1" fill="green" fill-opacity="0.3"/>
<circle cx="559.05" cy="189.45" r="2.9" fill="#ff0000"/>
<text x="568.7" y="158.85" style="font-size:5.35px;font-family:'Liberation Sans',Arial,sans-serif;fill:#262626">Normal Signal (with noise)</text>
<text x="568.7" y="166.9" style="font-size:5.35px;font-family:'Liberation Sans',Arial,sans-serif;fill:#262626">Anomalous Signal (with noise)</text>
<text x="568.7" y="174.95" style="font-size:5.35px;font-family:'Liberation Sans',Arial,sans-serif;fill:#262626">Seasonal Anomaly (Missing Peak)</text>
<text x="568.7" y="183.05" style="font-size:5.35px;font-family:'Liberation Sans',Arial,sans-serif;fill:#262626">Subsequence Anomaly (High-Freq Oscillation)</text>
<text x="568.7" y="191.1" style="font-size:5.35px;font-family:'Liberation Sans',Arial,sans-serif;fill:#262626">Point Anomaly (Spike)</text>
</g>
<g id="legend_2"><rect x="568.4" y="229.0" width="111.90" height="42.30" rx="1.1" fill="#ffffff" fill-opacity="0.8" stroke="#cccccc" stroke-width="0.8"/>
<path d="M569.8 233.65H581.0" stroke="#000" stroke-opacity="0.7" stroke-width="0.8" stroke-dasharray="3 1.35" fill="none"/>
<path d="M569.8 241.65H581.0" stroke="#0000ff" stroke-opacity="0.8" stroke-width="1" fill="none"/>
<path d="M569.8 249.70H581.0" stroke="#ff0000" stroke-width="1.1" fill="none"/>
<path d="M569.8 257.75H581.0" stroke="#808080" stroke-width="0.8" stroke-dasharray="0.8 1.3" fill="none"/>
<path d="M569.8 265.75H581.0" stroke="#808080" stroke-width="0.8" stroke-dasharray="0.8 1.3" fill="none"/>
<text x="585.4" y="235.6" style="font-size:5.35px;font-family:'Liberation Sans',Arial,sans-serif;fill:#262626">FFT of Normal Signal</text>
<text x="585.4" y="243.6" style="font-size:5.35px;font-family:'Liberation Sans',Arial,sans-serif;fill:#262626">FFT of Anomalous Signal</text>
<text x="585.4" y="251.65" style="font-size:5.35px;font-family:'Liberation Sans',Arial,sans-serif;fill:#262626">Anomalous High-Frequency Energy</text>
<text x="585.4" y="259.7" style="font-size:5.35px;font-family:'Liberation Sans',Arial,sans-serif;fill:#262626">Main Seasonal Frequency (Period 50)</text>
<text x="585.4" y="267.7" style="font-size:5.35px;font-family:'Liberation Sans',Arial,sans-serif;fill:#262626">Main Seasonal Frequency (Period 150)</text>
</g>
</svg>

</body></html>
